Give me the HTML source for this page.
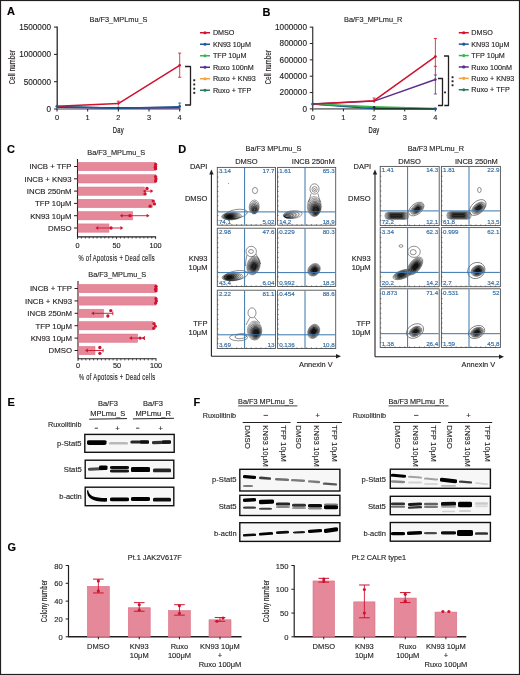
<!DOCTYPE html>
<html><head><meta charset="utf-8"><style>
html,body{margin:0;padding:0;background:#fff;}
body{width:520px;height:675px;overflow:hidden;position:relative;}
svg{position:absolute;left:0;top:0;will-change:transform;}
text{font-family:"Liberation Sans",sans-serif;stroke-width:0.14;}
</style></head><body>
<svg width="520" height="675" viewBox="0 0 520 675">
<rect x="0" y="0" width="520" height="675" fill="#fff"/>
<text x="7" y="15.3" font-size="11" text-anchor="start" fill="#000" stroke="#000" font-weight="bold" >A</text>
<text x="89.5" y="21.5" font-size="7.35" text-anchor="start" fill="#231f20" stroke="#231f20" font-weight="normal" >Ba/F3_MPLmu_S</text>
<line x1="57.2" y1="26.5" x2="57.2" y2="109.6" stroke="#231f20" stroke-width="1.25" />
<line x1="54" y1="109.0" x2="57" y2="109.0" stroke="#231f20" stroke-width="1" />
<text x="51.0" y="111.9" font-size="8.2" text-anchor="end" fill="#231f20" stroke="#231f20" font-weight="normal" >0</text>
<line x1="54" y1="81.7" x2="57" y2="81.7" stroke="#231f20" stroke-width="1" />
<text x="51.0" y="84.60000000000001" font-size="8.2" text-anchor="end" fill="#231f20" stroke="#231f20" font-weight="normal" >500000</text>
<line x1="54" y1="54.4" x2="57" y2="54.4" stroke="#231f20" stroke-width="1" />
<text x="51.0" y="57.3" font-size="8.2" text-anchor="end" fill="#231f20" stroke="#231f20" font-weight="normal" >1000000</text>
<line x1="54" y1="27.099999999999994" x2="57" y2="27.099999999999994" stroke="#231f20" stroke-width="1" />
<text x="51.0" y="29.999999999999993" font-size="8.2" text-anchor="end" fill="#231f20" stroke="#231f20" font-weight="normal" >1500000</text>
<line x1="57" y1="109" x2="180.68" y2="109" stroke="#808080" stroke-width="1.6" />
<line x1="57.0" y1="109" x2="57.0" y2="111.5" stroke="#231f20" stroke-width="1" />
<text x="57.0" y="120.3" font-size="7.4" text-anchor="middle" fill="#231f20" stroke="#231f20" font-weight="normal" >0</text>
<line x1="87.67" y1="109" x2="87.67" y2="111.5" stroke="#231f20" stroke-width="1" />
<text x="87.67" y="120.3" font-size="7.4" text-anchor="middle" fill="#231f20" stroke="#231f20" font-weight="normal" >1</text>
<line x1="118.34" y1="109" x2="118.34" y2="111.5" stroke="#231f20" stroke-width="1" />
<text x="118.34" y="120.3" font-size="7.4" text-anchor="middle" fill="#231f20" stroke="#231f20" font-weight="normal" >2</text>
<line x1="149.01" y1="109" x2="149.01" y2="111.5" stroke="#231f20" stroke-width="1" />
<text x="149.01" y="120.3" font-size="7.4" text-anchor="middle" fill="#231f20" stroke="#231f20" font-weight="normal" >3</text>
<line x1="179.68" y1="109" x2="179.68" y2="111.5" stroke="#231f20" stroke-width="1" />
<text x="179.68" y="120.3" font-size="7.4" text-anchor="middle" fill="#231f20" stroke="#231f20" font-weight="normal" >4</text>
<g transform="translate(118.3,132.6) scale(0.63,1)"><text x="0" y="0" font-size="9.2" text-anchor="middle" fill="#231f20" stroke="#231f20" style="stroke-width:0.25;letter-spacing:0.3px">Day</text></g>
<g transform="translate(14.9,67) rotate(-90) scale(0.65,1)"><text x="0" y="0" font-size="9.0" text-anchor="middle" fill="#231f20" stroke="#231f20" style="stroke-width:0.15;letter-spacing:0.4px">Cell number</text></g>
<polyline points="57,107.362 118.34,107.635 179.68,107.635" stroke="#5fa8c8" stroke-width="1.3" fill="none" stroke-linejoin="round" />
<polyline points="57,107.362 118.34,108.181 179.68,107.908" stroke="#5b2d8e" stroke-width="1.2" fill="none" stroke-linejoin="round" />
<polyline points="57,106.816 118.34,107.908 179.68,107.362" stroke="#233040" stroke-width="1.3" fill="none" stroke-linejoin="round" />
<polyline points="57,106.543 118.34,108.181 179.68,106.816" stroke="#1f5a96" stroke-width="1.5" fill="none" stroke-linejoin="round" />
<polyline points="57,106.27 118.34,103.53999999999999 179.68,65.32" stroke="#d0122f" stroke-width="1.5" fill="none" stroke-linejoin="round" />
<line x1="179.68" y1="53.1" x2="179.68" y2="77.3" stroke="#d0122f" stroke-width="0.8" />
<line x1="178.08" y1="53.1" x2="181.28" y2="53.1" stroke="#d0122f" stroke-width="0.8" />
<line x1="178.08" y1="77.3" x2="181.28" y2="77.3" stroke="#d0122f" stroke-width="0.8" />
<line x1="118.34" y1="101.2" x2="118.34" y2="105.5" stroke="#d0122f" stroke-width="0.8" />
<line x1="116.84" y1="101.2" x2="119.84" y2="101.2" stroke="#d0122f" stroke-width="0.8" />
<line x1="179.68" y1="103" x2="179.68" y2="109" stroke="#1f5a96" stroke-width="0.8" />
<line x1="178.18" y1="103" x2="181.18" y2="103" stroke="#1f5a96" stroke-width="0.8" />
<circle cx="179.68" cy="65.32" r="1.3" fill="#d0122f"/>
<circle cx="118.34" cy="103.53999999999999" r="1.1" fill="#d0122f"/>
<circle cx="57" cy="106.27" r="1.5" fill="#1f5a96"/>
<circle cx="179.68" cy="106.5" r="1.4" fill="#1f5a96"/>
<circle cx="118.34" cy="107.9" r="1.3" fill="#2a3550"/>
<polyline points="185,66.5 190.5,66.5 190.5,105 185,105" stroke="#231f20" stroke-width="1.3" fill="none" stroke-linejoin="round" stroke-linejoin="miter"/>
<rect x="193.3" y="79.3" width="1.9" height="1.9" fill="#231f20"/>
<rect x="193.3" y="83.5" width="1.9" height="1.9" fill="#231f20"/>
<rect x="193.3" y="87.7" width="1.9" height="1.9" fill="#231f20"/>
<rect x="193.3" y="91.9" width="1.9" height="1.9" fill="#231f20"/>
<line x1="200" y1="32.75" x2="210" y2="32.75" stroke="#d0122f" stroke-width="1.5" />
<circle cx="205" cy="32.75" r="1.6" fill="#d0122f"/>
<text x="212.9" y="35.35" font-size="7.2" text-anchor="start" fill="#231f20" stroke="#231f20" font-weight="normal" >DMSO</text>
<line x1="200" y1="44.25" x2="210" y2="44.25" stroke="#1f5a96" stroke-width="1.5" />
<circle cx="205" cy="44.25" r="1.6" fill="#1f5a96"/>
<text x="212.9" y="46.85" font-size="7.2" text-anchor="start" fill="#231f20" stroke="#231f20" font-weight="normal" >KN93 10&#956;M</text>
<line x1="200" y1="55.75" x2="210" y2="55.75" stroke="#3ab54a" stroke-width="1.5" />
<circle cx="205" cy="55.75" r="1.6" fill="#3ab54a"/>
<text x="212.9" y="58.35" font-size="7.2" text-anchor="start" fill="#231f20" stroke="#231f20" font-weight="normal" >TFP 10&#956;M</text>
<line x1="200" y1="67.25" x2="210" y2="67.25" stroke="#5b2d8e" stroke-width="1.5" />
<circle cx="205" cy="67.25" r="1.6" fill="#5b2d8e"/>
<text x="212.9" y="69.85" font-size="7.2" text-anchor="start" fill="#231f20" stroke="#231f20" font-weight="normal" >Ruxo 100nM</text>
<line x1="200" y1="78.75" x2="210" y2="78.75" stroke="#f7a13a" stroke-width="1.5" />
<circle cx="205" cy="78.75" r="1.6" fill="#f7a13a"/>
<text x="212.9" y="81.35" font-size="7.2" text-anchor="start" fill="#231f20" stroke="#231f20" font-weight="normal" >Ruxo + KN93</text>
<line x1="200" y1="90.25" x2="210" y2="90.25" stroke="#2b7a62" stroke-width="1.5" />
<circle cx="205" cy="90.25" r="1.6" fill="#2b7a62"/>
<text x="212.9" y="92.85" font-size="7.2" text-anchor="start" fill="#231f20" stroke="#231f20" font-weight="normal" >Ruxo + TFP</text>
<text x="262.5" y="16.3" font-size="11" text-anchor="start" fill="#000" stroke="#000" font-weight="bold" >B</text>
<text x="344" y="21.5" font-size="7.35" text-anchor="start" fill="#231f20" stroke="#231f20" font-weight="normal" >Ba/F3_MPLmu_R</text>
<line x1="312.75" y1="26.8" x2="312.75" y2="109.5" stroke="#231f20" stroke-width="1.1" />
<line x1="309.75" y1="108.9" x2="312.75" y2="108.9" stroke="#231f20" stroke-width="1" />
<text x="306.95" y="111.80000000000001" font-size="8.2" text-anchor="end" fill="#231f20" stroke="#231f20" font-weight="normal" >0</text>
<line x1="309.75" y1="92.55000000000001" x2="312.75" y2="92.55000000000001" stroke="#231f20" stroke-width="1" />
<text x="306.95" y="95.45000000000002" font-size="8.2" text-anchor="end" fill="#231f20" stroke="#231f20" font-weight="normal" >200000</text>
<line x1="309.75" y1="76.2" x2="312.75" y2="76.2" stroke="#231f20" stroke-width="1" />
<text x="306.95" y="79.10000000000001" font-size="8.2" text-anchor="end" fill="#231f20" stroke="#231f20" font-weight="normal" >400000</text>
<line x1="309.75" y1="59.85" x2="312.75" y2="59.85" stroke="#231f20" stroke-width="1" />
<text x="306.95" y="62.75" font-size="8.2" text-anchor="end" fill="#231f20" stroke="#231f20" font-weight="normal" >600000</text>
<line x1="309.75" y1="43.5" x2="312.75" y2="43.5" stroke="#231f20" stroke-width="1" />
<text x="306.95" y="46.4" font-size="8.2" text-anchor="end" fill="#231f20" stroke="#231f20" font-weight="normal" >800000</text>
<line x1="309.75" y1="27.150000000000006" x2="312.75" y2="27.150000000000006" stroke="#231f20" stroke-width="1" />
<text x="306.95" y="30.050000000000004" font-size="8.2" text-anchor="end" fill="#231f20" stroke="#231f20" font-weight="normal" >1000000</text>
<line x1="312.75" y1="108.9" x2="436.39" y2="108.9" stroke="#808080" stroke-width="1.6" />
<line x1="312.75" y1="108.9" x2="312.75" y2="111.4" stroke="#231f20" stroke-width="1" />
<text x="312.75" y="120.1" font-size="7.4" text-anchor="middle" fill="#231f20" stroke="#231f20" font-weight="normal" >0</text>
<line x1="343.41" y1="108.9" x2="343.41" y2="111.4" stroke="#231f20" stroke-width="1" />
<text x="343.41" y="120.1" font-size="7.4" text-anchor="middle" fill="#231f20" stroke="#231f20" font-weight="normal" >1</text>
<line x1="374.07" y1="108.9" x2="374.07" y2="111.4" stroke="#231f20" stroke-width="1" />
<text x="374.07" y="120.1" font-size="7.4" text-anchor="middle" fill="#231f20" stroke="#231f20" font-weight="normal" >2</text>
<line x1="404.73" y1="108.9" x2="404.73" y2="111.4" stroke="#231f20" stroke-width="1" />
<text x="404.73" y="120.1" font-size="7.4" text-anchor="middle" fill="#231f20" stroke="#231f20" font-weight="normal" >3</text>
<line x1="435.39" y1="108.9" x2="435.39" y2="111.4" stroke="#231f20" stroke-width="1" />
<text x="435.39" y="120.1" font-size="7.4" text-anchor="middle" fill="#231f20" stroke="#231f20" font-weight="normal" >4</text>
<g transform="translate(374,132.8) scale(0.63,1)"><text x="0" y="0" font-size="9.2" text-anchor="middle" fill="#231f20" stroke="#231f20" style="stroke-width:0.25;letter-spacing:0.3px">Day</text></g>
<g transform="translate(270.6,67) rotate(-90) scale(0.65,1)"><text x="0" y="0" font-size="9.0" text-anchor="middle" fill="#231f20" stroke="#231f20" style="stroke-width:0.15;letter-spacing:0.4px">Cell number</text></g>
<polyline points="312.75,103.995 374.07,107.67375000000001 435.39,108.9" stroke="#2b7a62" stroke-width="1.3" fill="none" stroke-linejoin="round" />
<polyline points="312.75,103.995 374.07,108.9 435.39,108.9" stroke="#1f5a96" stroke-width="1.3" fill="none" stroke-linejoin="round" />
<polyline points="312.75,103.995 374.07,106.85625 435.39,108.49125000000001" stroke="#3ab54a" stroke-width="1.5" fill="none" stroke-linejoin="round" />
<polyline points="374.07,108.49125000000001 435.39,108.9" stroke="#1a3a2a" stroke-width="1.3" fill="none" stroke-linejoin="round" />
<polyline points="312.75,103.995 374.07,101.13375 435.39,79.47" stroke="#5b2d8e" stroke-width="1.4" fill="none" stroke-linejoin="round" />
<polyline points="312.75,103.995 374.07,100.72500000000001 435.39,56.58" stroke="#d0122f" stroke-width="1.5" fill="none" stroke-linejoin="round" />
<line x1="435.39" y1="38.5" x2="435.39" y2="66.3" stroke="#d0122f" stroke-width="0.8" />
<line x1="433.78999999999996" y1="38.5" x2="436.99" y2="38.5" stroke="#d0122f" stroke-width="0.8" />
<line x1="433.78999999999996" y1="66.3" x2="436.99" y2="66.3" stroke="#d0122f" stroke-width="0.8" />
<line x1="435.39" y1="66.3" x2="435.39" y2="94" stroke="#5b2d8e" stroke-width="0.8" />
<line x1="433.78999999999996" y1="75" x2="436.99" y2="75" stroke="#5b2d8e" stroke-width="0.8" />
<line x1="433.78999999999996" y1="94" x2="436.99" y2="94" stroke="#5b2d8e" stroke-width="0.8" />
<line x1="374.07" y1="98" x2="374.07" y2="103" stroke="#d0122f" stroke-width="0.8" />
<line x1="372.57" y1="98" x2="375.57" y2="98" stroke="#d0122f" stroke-width="0.8" />
<circle cx="435.39" cy="56.58" r="1.4" fill="#d0122f"/>
<circle cx="435.39" cy="79.47" r="1.3" fill="#5b2d8e"/>
<circle cx="374.07" cy="100.72500000000001" r="1.2" fill="#d0122f"/>
<circle cx="312.75" cy="103.995" r="1.6" fill="#1f5a96"/>
<circle cx="374.07" cy="107.3" r="1.3" fill="#35205a"/>
<circle cx="435.39" cy="108.75" r="1.6" fill="#1f5a96"/>
<polyline points="444,56 448.5,56 448.5,105.5 444.3,105.5" stroke="#231f20" stroke-width="1.3" fill="none" stroke-linejoin="round" stroke-linejoin="miter"/>
<polyline points="438,78.5 442.5,78.5 442.5,105.5 438,105.5" stroke="#231f20" stroke-width="1.3" fill="none" stroke-linejoin="round" stroke-linejoin="miter"/>
<rect x="451.6" y="76.3" width="1.9" height="1.9" fill="#231f20"/>
<rect x="451.6" y="80.3" width="1.9" height="1.9" fill="#231f20"/>
<rect x="451.6" y="84.3" width="1.9" height="1.9" fill="#231f20"/>
<rect x="444.1" y="91.5" width="1.8" height="1.8" fill="#231f20"/>
<line x1="458.75" y1="32.75" x2="468.75" y2="32.75" stroke="#d0122f" stroke-width="1.5" />
<circle cx="463.75" cy="32.75" r="1.6" fill="#d0122f"/>
<text x="471.3" y="35.35" font-size="7.2" text-anchor="start" fill="#231f20" stroke="#231f20" font-weight="normal" >DMSO</text>
<line x1="458.75" y1="44.15" x2="468.75" y2="44.15" stroke="#1f5a96" stroke-width="1.5" />
<circle cx="463.75" cy="44.15" r="1.6" fill="#1f5a96"/>
<text x="471.3" y="46.75" font-size="7.2" text-anchor="start" fill="#231f20" stroke="#231f20" font-weight="normal" >KN93 10&#956;M</text>
<line x1="458.75" y1="55.55" x2="468.75" y2="55.55" stroke="#3ab54a" stroke-width="1.5" />
<circle cx="463.75" cy="55.55" r="1.6" fill="#3ab54a"/>
<text x="471.3" y="58.15" font-size="7.2" text-anchor="start" fill="#231f20" stroke="#231f20" font-weight="normal" >TFP 10&#956;M</text>
<line x1="458.75" y1="66.95" x2="468.75" y2="66.95" stroke="#5b2d8e" stroke-width="1.5" />
<circle cx="463.75" cy="66.95" r="1.6" fill="#5b2d8e"/>
<text x="471.3" y="69.55" font-size="7.2" text-anchor="start" fill="#231f20" stroke="#231f20" font-weight="normal" >Ruxo 100nM</text>
<line x1="458.75" y1="78.35" x2="468.75" y2="78.35" stroke="#f7a13a" stroke-width="1.5" />
<circle cx="463.75" cy="78.35" r="1.6" fill="#f7a13a"/>
<text x="471.3" y="80.94999999999999" font-size="7.2" text-anchor="start" fill="#231f20" stroke="#231f20" font-weight="normal" >Ruxo + KN93</text>
<line x1="458.75" y1="89.75" x2="468.75" y2="89.75" stroke="#2b7a62" stroke-width="1.5" />
<circle cx="463.75" cy="89.75" r="1.6" fill="#2b7a62"/>
<text x="471.3" y="92.35" font-size="7.2" text-anchor="start" fill="#231f20" stroke="#231f20" font-weight="normal" >Ruxo + TFP</text>
<text x="7" y="153.3" font-size="11" text-anchor="start" fill="#000" stroke="#000" font-weight="bold" >C</text>
<line x1="77.5" y1="159" x2="77.5" y2="237.4" stroke="#231f20" stroke-width="1.1" />
<line x1="77.5" y1="236.9" x2="156.1" y2="236.9" stroke="#231f20" stroke-width="1.1" />
<line x1="77.5" y1="236.9" x2="77.5" y2="239.1" stroke="#231f20" stroke-width="0.8" />
<line x1="81.405" y1="236.9" x2="81.405" y2="238.5" stroke="#231f20" stroke-width="0.8" />
<line x1="85.31" y1="236.9" x2="85.31" y2="238.5" stroke="#231f20" stroke-width="0.8" />
<line x1="89.215" y1="236.9" x2="89.215" y2="238.5" stroke="#231f20" stroke-width="0.8" />
<line x1="93.12" y1="236.9" x2="93.12" y2="238.5" stroke="#231f20" stroke-width="0.8" />
<line x1="97.025" y1="236.9" x2="97.025" y2="238.5" stroke="#231f20" stroke-width="0.8" />
<line x1="100.92999999999999" y1="236.9" x2="100.92999999999999" y2="238.5" stroke="#231f20" stroke-width="0.8" />
<line x1="104.835" y1="236.9" x2="104.835" y2="238.5" stroke="#231f20" stroke-width="0.8" />
<line x1="108.74" y1="236.9" x2="108.74" y2="238.5" stroke="#231f20" stroke-width="0.8" />
<line x1="112.645" y1="236.9" x2="112.645" y2="238.5" stroke="#231f20" stroke-width="0.8" />
<line x1="116.55" y1="236.9" x2="116.55" y2="239.1" stroke="#231f20" stroke-width="0.8" />
<line x1="120.455" y1="236.9" x2="120.455" y2="238.5" stroke="#231f20" stroke-width="0.8" />
<line x1="124.35999999999999" y1="236.9" x2="124.35999999999999" y2="238.5" stroke="#231f20" stroke-width="0.8" />
<line x1="128.265" y1="236.9" x2="128.265" y2="238.5" stroke="#231f20" stroke-width="0.8" />
<line x1="132.17" y1="236.9" x2="132.17" y2="238.5" stroke="#231f20" stroke-width="0.8" />
<line x1="136.075" y1="236.9" x2="136.075" y2="238.5" stroke="#231f20" stroke-width="0.8" />
<line x1="139.98" y1="236.9" x2="139.98" y2="238.5" stroke="#231f20" stroke-width="0.8" />
<line x1="143.885" y1="236.9" x2="143.885" y2="238.5" stroke="#231f20" stroke-width="0.8" />
<line x1="147.79" y1="236.9" x2="147.79" y2="238.5" stroke="#231f20" stroke-width="0.8" />
<line x1="151.695" y1="236.9" x2="151.695" y2="238.5" stroke="#231f20" stroke-width="0.8" />
<line x1="155.6" y1="236.9" x2="155.6" y2="239.1" stroke="#231f20" stroke-width="0.8" />
<text x="77.5" y="248.2" font-size="7.3" text-anchor="middle" fill="#231f20" stroke="#231f20" font-weight="normal" >0</text>
<text x="116.55" y="248.2" font-size="7.3" text-anchor="middle" fill="#231f20" stroke="#231f20" font-weight="normal" >50</text>
<text x="155.6" y="248.2" font-size="7.3" text-anchor="middle" fill="#231f20" stroke="#231f20" font-weight="normal" >100</text>
<g transform="translate(116.75,260.5) scale(0.66,1)"><text x="0" y="0" font-size="8.8" text-anchor="middle" fill="#231f20" stroke="#231f20" style="stroke-width:0.15;letter-spacing:0.45px">% of Apotosis + Dead cells</text></g>
<text x="87.3" y="155.4" font-size="7.35" text-anchor="start" fill="#231f20" stroke="#231f20" font-weight="normal" >Ba/F3_MPLmu_S</text>
<line x1="74.0" y1="166.5" x2="77.5" y2="166.5" stroke="#231f20" stroke-width="1" />
<text x="71.5" y="169.3" font-size="7.8" text-anchor="end" fill="#231f20" stroke="#231f20" font-weight="normal" >INCB + TFP</text>
<line x1="74.0" y1="178.8" x2="77.5" y2="178.8" stroke="#231f20" stroke-width="1" />
<text x="71.5" y="181.60000000000002" font-size="7.8" text-anchor="end" fill="#231f20" stroke="#231f20" font-weight="normal" >INCB + KN93</text>
<line x1="74.0" y1="191.1" x2="77.5" y2="191.1" stroke="#231f20" stroke-width="1" />
<text x="71.5" y="193.9" font-size="7.8" text-anchor="end" fill="#231f20" stroke="#231f20" font-weight="normal" >INCB 250nM</text>
<line x1="74.0" y1="203.4" x2="77.5" y2="203.4" stroke="#231f20" stroke-width="1" />
<text x="71.5" y="206.20000000000002" font-size="7.8" text-anchor="end" fill="#231f20" stroke="#231f20" font-weight="normal" >TFP 10&#956;M</text>
<line x1="74.0" y1="215.7" x2="77.5" y2="215.7" stroke="#231f20" stroke-width="1" />
<text x="71.5" y="218.5" font-size="7.8" text-anchor="end" fill="#231f20" stroke="#231f20" font-weight="normal" >KN93 10&#956;M</text>
<line x1="74.0" y1="228.0" x2="77.5" y2="228.0" stroke="#231f20" stroke-width="1" />
<text x="71.5" y="230.8" font-size="7.8" text-anchor="end" fill="#231f20" stroke="#231f20" font-weight="normal" >DMSO</text>
<rect x="78.0" y="162.4" width="77.6" height="8.3" fill="#e4889a" stroke="#dc6f84" stroke-width="0.5"/>
<circle cx="155.6" cy="164.3" r="1.65" fill="#d0122f"/>
<circle cx="155.6" cy="166.5" r="1.65" fill="#d0122f"/>
<circle cx="155.6" cy="168.7" r="1.65" fill="#d0122f"/>
<circle cx="155.2095" cy="167.5" r="1.65" fill="#d0122f"/>
<rect x="78.0" y="174.70000000000002" width="77.6" height="8.3" fill="#e4889a" stroke="#dc6f84" stroke-width="0.5"/>
<circle cx="155.6" cy="176.60000000000002" r="1.65" fill="#d0122f"/>
<circle cx="155.9905" cy="178.8" r="1.65" fill="#d0122f"/>
<circle cx="155.6" cy="181.0" r="1.65" fill="#d0122f"/>
<rect x="78.0" y="187.0" width="66.35359999999999" height="8.3" fill="#e4889a" stroke="#dc6f84" stroke-width="0.5"/>
<line x1="144.2755" y1="191.1" x2="151.92929999999998" y2="191.1" stroke="#d0122f" stroke-width="0.9" />
<path d="M142.8755,191.1 L145.6755,189.2 L145.6755,193.0 Z" fill="#d0122f"/>
<path d="M153.3293,191.1 L150.52929999999998,189.2 L150.52929999999998,193.0 Z" fill="#d0122f"/>
<circle cx="147.009" cy="188.5" r="1.65" fill="#d0122f"/>
<circle cx="145.0565" cy="193.9" r="1.65" fill="#d0122f"/>
<rect x="78.0" y="199.3" width="74.476" height="8.3" fill="#e4889a" stroke="#dc6f84" stroke-width="0.5"/>
<circle cx="153.257" cy="201.1" r="1.65" fill="#d0122f"/>
<circle cx="154.42849999999999" cy="203.9" r="1.65" fill="#d0122f"/>
<circle cx="150.13299999999998" cy="206.20000000000002" r="1.65" fill="#d0122f"/>
<rect x="78.0" y="211.6" width="54.716699999999996" height="8.3" fill="#e4889a" stroke="#dc6f84" stroke-width="0.5"/>
<line x1="121.23599999999999" y1="215.7" x2="148.1024" y2="215.7" stroke="#d0122f" stroke-width="0.9" />
<path d="M119.83599999999998,215.7 L122.636,213.79999999999998 L122.636,217.6 Z" fill="#d0122f"/>
<path d="M149.5024,215.7 L146.70239999999998,213.79999999999998 L146.70239999999998,217.6 Z" fill="#d0122f"/>
<circle cx="129.9832" cy="215.7" r="1.65" fill="#d0122f"/>
<rect x="78.0" y="223.9" width="30.974299999999996" height="8.3" fill="#e4889a" stroke="#dc6f84" stroke-width="0.5"/>
<line x1="96.8688" y1="228.0" x2="121.86079999999998" y2="228.0" stroke="#d0122f" stroke-width="0.9" />
<path d="M95.46879999999999,228.0 L98.2688,226.1 L98.2688,229.9 Z" fill="#d0122f"/>
<path d="M123.26079999999999,228.0 L120.46079999999998,226.1 L120.46079999999998,229.9 Z" fill="#d0122f"/>
<circle cx="111.00489999999999" cy="228.0" r="1.65" fill="#d0122f"/>
<line x1="78.0" y1="281" x2="78.0" y2="359.3" stroke="#231f20" stroke-width="1.1" />
<line x1="78.0" y1="358.8" x2="156.5" y2="358.8" stroke="#231f20" stroke-width="1.1" />
<line x1="78.0" y1="358.8" x2="78.0" y2="361.0" stroke="#231f20" stroke-width="0.8" />
<line x1="81.9" y1="358.8" x2="81.9" y2="360.40000000000003" stroke="#231f20" stroke-width="0.8" />
<line x1="85.8" y1="358.8" x2="85.8" y2="360.40000000000003" stroke="#231f20" stroke-width="0.8" />
<line x1="89.7" y1="358.8" x2="89.7" y2="360.40000000000003" stroke="#231f20" stroke-width="0.8" />
<line x1="93.6" y1="358.8" x2="93.6" y2="360.40000000000003" stroke="#231f20" stroke-width="0.8" />
<line x1="97.5" y1="358.8" x2="97.5" y2="360.40000000000003" stroke="#231f20" stroke-width="0.8" />
<line x1="101.4" y1="358.8" x2="101.4" y2="360.40000000000003" stroke="#231f20" stroke-width="0.8" />
<line x1="105.3" y1="358.8" x2="105.3" y2="360.40000000000003" stroke="#231f20" stroke-width="0.8" />
<line x1="109.2" y1="358.8" x2="109.2" y2="360.40000000000003" stroke="#231f20" stroke-width="0.8" />
<line x1="113.1" y1="358.8" x2="113.1" y2="360.40000000000003" stroke="#231f20" stroke-width="0.8" />
<line x1="117.0" y1="358.8" x2="117.0" y2="361.0" stroke="#231f20" stroke-width="0.8" />
<line x1="120.9" y1="358.8" x2="120.9" y2="360.40000000000003" stroke="#231f20" stroke-width="0.8" />
<line x1="124.80000000000001" y1="358.8" x2="124.80000000000001" y2="360.40000000000003" stroke="#231f20" stroke-width="0.8" />
<line x1="128.7" y1="358.8" x2="128.7" y2="360.40000000000003" stroke="#231f20" stroke-width="0.8" />
<line x1="132.6" y1="358.8" x2="132.6" y2="360.40000000000003" stroke="#231f20" stroke-width="0.8" />
<line x1="136.5" y1="358.8" x2="136.5" y2="360.40000000000003" stroke="#231f20" stroke-width="0.8" />
<line x1="140.4" y1="358.8" x2="140.4" y2="360.40000000000003" stroke="#231f20" stroke-width="0.8" />
<line x1="144.3" y1="358.8" x2="144.3" y2="360.40000000000003" stroke="#231f20" stroke-width="0.8" />
<line x1="148.2" y1="358.8" x2="148.2" y2="360.40000000000003" stroke="#231f20" stroke-width="0.8" />
<line x1="152.10000000000002" y1="358.8" x2="152.10000000000002" y2="360.40000000000003" stroke="#231f20" stroke-width="0.8" />
<line x1="156.0" y1="358.8" x2="156.0" y2="361.0" stroke="#231f20" stroke-width="0.8" />
<text x="78.0" y="368.3" font-size="7.3" text-anchor="middle" fill="#231f20" stroke="#231f20" font-weight="normal" >0</text>
<text x="117.0" y="368.3" font-size="7.3" text-anchor="middle" fill="#231f20" stroke="#231f20" font-weight="normal" >50</text>
<text x="156.0" y="368.3" font-size="7.3" text-anchor="middle" fill="#231f20" stroke="#231f20" font-weight="normal" >100</text>
<g transform="translate(117.2,380.3) scale(0.66,1)"><text x="0" y="0" font-size="8.8" text-anchor="middle" fill="#231f20" stroke="#231f20" style="stroke-width:0.15;letter-spacing:0.45px">% of Apotosis + Dead cells</text></g>
<text x="88.3" y="277.3" font-size="7.35" text-anchor="start" fill="#231f20" stroke="#231f20" font-weight="normal" >Ba/F3_MPLmu_S</text>
<line x1="74.5" y1="288.5" x2="78.0" y2="288.5" stroke="#231f20" stroke-width="1" />
<text x="72.0" y="291.3" font-size="7.8" text-anchor="end" fill="#231f20" stroke="#231f20" font-weight="normal" >INCB + TFP</text>
<line x1="74.5" y1="300.9" x2="78.0" y2="300.9" stroke="#231f20" stroke-width="1" />
<text x="72.0" y="303.7" font-size="7.8" text-anchor="end" fill="#231f20" stroke="#231f20" font-weight="normal" >INCB + KN93</text>
<line x1="74.5" y1="313.3" x2="78.0" y2="313.3" stroke="#231f20" stroke-width="1" />
<text x="72.0" y="316.1" font-size="7.8" text-anchor="end" fill="#231f20" stroke="#231f20" font-weight="normal" >INCB 250nM</text>
<line x1="74.5" y1="325.7" x2="78.0" y2="325.7" stroke="#231f20" stroke-width="1" />
<text x="72.0" y="328.5" font-size="7.8" text-anchor="end" fill="#231f20" stroke="#231f20" font-weight="normal" >TFP 10&#956;M</text>
<line x1="74.5" y1="338.1" x2="78.0" y2="338.1" stroke="#231f20" stroke-width="1" />
<text x="72.0" y="340.90000000000003" font-size="7.8" text-anchor="end" fill="#231f20" stroke="#231f20" font-weight="normal" >KN93 10&#956;M</text>
<line x1="74.5" y1="350.5" x2="78.0" y2="350.5" stroke="#231f20" stroke-width="1" />
<text x="72.0" y="353.3" font-size="7.8" text-anchor="end" fill="#231f20" stroke="#231f20" font-weight="normal" >DMSO</text>
<rect x="78.5" y="284.4" width="77.5" height="8.3" fill="#e4889a" stroke="#dc6f84" stroke-width="0.5"/>
<circle cx="156.0" cy="286.3" r="1.65" fill="#d0122f"/>
<circle cx="156.0" cy="288.5" r="1.65" fill="#d0122f"/>
<circle cx="156.0" cy="290.7" r="1.65" fill="#d0122f"/>
<circle cx="155.61" cy="289.5" r="1.65" fill="#d0122f"/>
<rect x="78.5" y="296.79999999999995" width="77.5" height="8.3" fill="#e4889a" stroke="#dc6f84" stroke-width="0.5"/>
<circle cx="156.0" cy="298.7" r="1.65" fill="#d0122f"/>
<circle cx="156.39" cy="300.9" r="1.65" fill="#d0122f"/>
<circle cx="155.61" cy="303.09999999999997" r="1.65" fill="#d0122f"/>
<rect x="78.5" y="309.2" width="25.162" height="8.3" fill="#e4889a" stroke="#dc6f84" stroke-width="0.5"/>
<line x1="92.664" y1="313.3" x2="112.78800000000001" y2="313.3" stroke="#d0122f" stroke-width="0.9" />
<path d="M91.264,313.3 L94.06400000000001,311.40000000000003 L94.06400000000001,315.2 Z" fill="#d0122f"/>
<line x1="112.78800000000001" y1="311.5" x2="112.78800000000001" y2="315.1" stroke="#d0122f" stroke-width="0.9" />
<circle cx="110.75999999999999" cy="310.6" r="1.65" fill="#d0122f"/>
<circle cx="107.874" cy="316.0" r="1.65" fill="#d0122f"/>
<rect x="78.5" y="321.59999999999997" width="74.38" height="8.3" fill="#e4889a" stroke="#dc6f84" stroke-width="0.5"/>
<circle cx="154.05" cy="323.7" r="1.65" fill="#d0122f"/>
<circle cx="155.22" cy="326.2" r="1.65" fill="#d0122f"/>
<circle cx="153.66" cy="328.3" r="1.65" fill="#d0122f"/>
<rect x="78.5" y="334.0" width="59.17" height="8.3" fill="#e4889a" stroke="#dc6f84" stroke-width="0.5"/>
<line x1="130.572" y1="338.1" x2="143.13" y2="338.1" stroke="#d0122f" stroke-width="0.9" />
<path d="M129.172,338.1 L131.972,336.20000000000005 L131.972,340.0 Z" fill="#d0122f"/>
<path d="M141.73,338.1 L144.53,336.20000000000005 L144.53,340.0 Z" fill="#d0122f"/>
<line x1="144.53" y1="336.20000000000005" x2="144.53" y2="340.0" stroke="#d0122f" stroke-width="0.8" />
<circle cx="140.01" cy="338.1" r="1.65" fill="#d0122f"/>
<rect x="78.5" y="346.4" width="16.504" height="8.3" fill="#e4889a" stroke="#dc6f84" stroke-width="0.5"/>
<line x1="86.424" y1="350.5" x2="103.116" y2="350.5" stroke="#d0122f" stroke-width="0.9" />
<path d="M85.024,350.5 L87.82400000000001,348.6 L87.82400000000001,352.4 Z" fill="#d0122f"/>
<line x1="103.116" y1="348.7" x2="103.116" y2="352.3" stroke="#d0122f" stroke-width="0.9" />
<circle cx="99.84" cy="347.5" r="1.65" fill="#d0122f"/>
<circle cx="99.84" cy="353.3" r="1.65" fill="#d0122f"/>
<text x="178.3" y="152.6" font-size="11" text-anchor="start" fill="#000" stroke="#000" font-weight="bold" >D</text>
<text x="245.5" y="151.0" font-size="7.35" text-anchor="start" fill="#231f20" stroke="#231f20" font-weight="normal" >Ba/F3 MPLmu_S</text>
<text x="246.4" y="163.8" font-size="7.5" text-anchor="middle" fill="#231f20" stroke="#231f20" font-weight="normal" >DMSO</text>
<text x="313.3" y="163.8" font-size="7.5" text-anchor="middle" fill="#231f20" stroke="#231f20" font-weight="normal" >INCB 250nM</text>
<text x="207.4" y="169.0" font-size="7.5" text-anchor="end" fill="#231f20" stroke="#231f20" font-weight="normal" >DAPI</text>
<text x="207.4" y="200.9" font-size="7.5" text-anchor="end" fill="#231f20" stroke="#231f20" font-weight="normal" >DMSO</text>
<text x="207.4" y="260.6" font-size="7.5" text-anchor="end" fill="#231f20" stroke="#231f20" font-weight="normal" >KN93</text>
<text x="207.4" y="270.0" font-size="7.5" text-anchor="end" fill="#231f20" stroke="#231f20" font-weight="normal" >10&#956;M</text>
<text x="207.4" y="325.7" font-size="7.5" text-anchor="end" fill="#231f20" stroke="#231f20" font-weight="normal" >TFP</text>
<text x="207.4" y="335.2" font-size="7.5" text-anchor="end" fill="#231f20" stroke="#231f20" font-weight="normal" >10&#956;M</text>
<line x1="211.4" y1="173" x2="211.4" y2="356.3" stroke="#231f20" stroke-width="1.1" />
<path d="M209.2,174.5 L211.4,169.5 L213.6,174.5 Z" fill="#231f20"/>
<line x1="211.4" y1="356.3" x2="337" y2="356.3" stroke="#231f20" stroke-width="1.1" />
<path d="M336,354.1 L341,356.3 L336,358.5 Z" fill="#231f20"/>
<text x="332.7" y="366.7" font-size="7.4" text-anchor="end" fill="#231f20" stroke="#231f20" font-weight="normal" >Annexin V</text>
<rect x="217.3" y="167.4" width="58.19999999999999" height="57.79999999999998" fill="#fff" stroke="#505050" stroke-width="0.9"/>
<ellipse cx="236.0" cy="214.0" rx="11.5" ry="4.4" transform="rotate(-10 236.0 214.0)" fill="none" fill-opacity="1" stroke="#222" stroke-width="0.55" stroke-opacity="0.9"/>
<ellipse cx="231.5" cy="216.2" rx="10.0" ry="3.7" transform="rotate(-3 231.5 216.2)" fill="#000" fill-opacity="0.03" stroke="#000" stroke-width="0.5" stroke-opacity="0.7"/>
<ellipse cx="231.21428571428572" cy="216.24285714285713" rx="8.885714285714286" ry="3.287714285714286" transform="rotate(-3 231.21428571428572 216.24285714285713)" fill="#000" fill-opacity="0.06581421089683587" stroke="#000" stroke-width="0.5" stroke-opacity="0.7428571428571428"/>
<ellipse cx="230.92857142857142" cy="216.28571428571428" rx="7.771428571428571" ry="2.8754285714285714" transform="rotate(-3 230.92857142857142 216.28571428571428)" fill="#000" fill-opacity="0.12451426919292742" stroke="#000" stroke-width="0.5" stroke-opacity="0.7857142857142857"/>
<ellipse cx="230.64285714285714" cy="216.32857142857142" rx="6.657142857142857" ry="2.463142857142857" transform="rotate(-3 230.64285714285714 216.32857142857142)" fill="#000" fill-opacity="0.19673437399057794" stroke="#000" stroke-width="0.5" stroke-opacity="0.8285714285714285"/>
<ellipse cx="230.35714285714286" cy="216.37142857142857" rx="5.542857142857143" ry="2.0508571428571427" transform="rotate(-3 230.35714285714286 216.37142857142857)" fill="#000" fill-opacity="0.2794246517619732" stroke="#000" stroke-width="0.5" stroke-opacity="0.8714285714285713"/>
<ellipse cx="230.07142857142858" cy="216.4142857142857" rx="4.428571428571429" ry="1.6385714285714286" transform="rotate(-3 230.07142857142858 216.4142857142857)" fill="#000" fill-opacity="0.37088931817881365" stroke="#000" stroke-width="0.5" stroke-opacity="0.9142857142857143"/>
<ellipse cx="229.78571428571428" cy="216.45714285714286" rx="3.314285714285714" ry="1.2262857142857142" transform="rotate(-3 229.78571428571428 216.45714285714286)" fill="#000" fill-opacity="0.4700146509566677" stroke="#000" stroke-width="0.5" stroke-opacity="0.9571428571428571"/>
<ellipse cx="229.5" cy="216.5" rx="2.1999999999999997" ry="0.814" transform="rotate(-3 229.5 216.5)" fill="#000" fill-opacity="0.5760000000000001" stroke="#000" stroke-width="0.5" stroke-opacity="1.0"/>
<ellipse cx="254.2" cy="207.0" rx="5.0" ry="7.0" transform="rotate(3 254.2 207.0)" fill="#000" fill-opacity="0.03" stroke="#000" stroke-width="0.5" stroke-opacity="0.7"/>
<ellipse cx="254.26" cy="207.5" rx="4.3" ry="6.02" transform="rotate(3 254.26 207.5)" fill="#000" fill-opacity="0.06551065591553895" stroke="#000" stroke-width="0.5" stroke-opacity="0.76"/>
<ellipse cx="254.32" cy="208.0" rx="3.5999999999999996" ry="5.04" transform="rotate(3 254.32 208.0)" fill="#000" fill-opacity="0.12371318279457581" stroke="#000" stroke-width="0.5" stroke-opacity="0.82"/>
<ellipse cx="254.38" cy="208.5" rx="2.9000000000000004" ry="4.0600000000000005" transform="rotate(3 254.38 208.5)" fill="#000" fill-opacity="0.19532116262808116" stroke="#000" stroke-width="0.5" stroke-opacity="0.8799999999999999"/>
<ellipse cx="254.44" cy="209.0" rx="2.2" ry="3.0800000000000005" transform="rotate(3 254.44 209.0)" fill="#000" fill-opacity="0.27731057208229815" stroke="#000" stroke-width="0.5" stroke-opacity="0.94"/>
<ellipse cx="254.5" cy="209.5" rx="1.5000000000000002" ry="2.1000000000000005" transform="rotate(3 254.5 209.5)" fill="#000" fill-opacity="0.368" stroke="#000" stroke-width="0.5" stroke-opacity="1.0"/>
<ellipse cx="255.0" cy="190.5" rx="2.6" ry="3.1" transform="rotate(0 255.0 190.5)" fill="none" fill-opacity="1" stroke="#222" stroke-width="0.55" stroke-opacity="0.9"/>
<circle cx="228.4" cy="183.5" r="0.45" fill="#333"/>
<line x1="244.6" y1="167.9" x2="244.6" y2="224.7" stroke="#3a76ad" stroke-width="1.0" />
<line x1="217.8" y1="211.9" x2="275.0" y2="211.9" stroke="#3a76ad" stroke-width="1.0" />
<line x1="217.10000000000002" y1="172.21666666666667" x2="218.5" y2="172.21666666666667" stroke="#333" stroke-width="0.5" />
<line x1="217.10000000000002" y1="177.03333333333333" x2="218.5" y2="177.03333333333333" stroke="#333" stroke-width="0.5" />
<line x1="217.10000000000002" y1="181.85" x2="218.5" y2="181.85" stroke="#333" stroke-width="0.5" />
<line x1="217.10000000000002" y1="186.66666666666666" x2="218.5" y2="186.66666666666666" stroke="#333" stroke-width="0.5" />
<line x1="217.10000000000002" y1="191.48333333333332" x2="218.5" y2="191.48333333333332" stroke="#333" stroke-width="0.5" />
<line x1="217.10000000000002" y1="196.3" x2="218.5" y2="196.3" stroke="#333" stroke-width="0.5" />
<line x1="217.10000000000002" y1="201.11666666666667" x2="218.5" y2="201.11666666666667" stroke="#333" stroke-width="0.5" />
<line x1="217.10000000000002" y1="205.93333333333334" x2="218.5" y2="205.93333333333334" stroke="#333" stroke-width="0.5" />
<line x1="217.10000000000002" y1="210.75" x2="218.5" y2="210.75" stroke="#333" stroke-width="0.5" />
<line x1="217.10000000000002" y1="215.56666666666666" x2="218.5" y2="215.56666666666666" stroke="#333" stroke-width="0.5" />
<line x1="217.10000000000002" y1="220.38333333333333" x2="218.5" y2="220.38333333333333" stroke="#333" stroke-width="0.5" />
<line x1="222.15" y1="224.0" x2="222.15" y2="225.39999999999998" stroke="#333" stroke-width="0.5" />
<line x1="227.0" y1="224.0" x2="227.0" y2="225.39999999999998" stroke="#333" stroke-width="0.5" />
<line x1="231.85000000000002" y1="224.0" x2="231.85000000000002" y2="225.39999999999998" stroke="#333" stroke-width="0.5" />
<line x1="236.70000000000002" y1="224.0" x2="236.70000000000002" y2="225.39999999999998" stroke="#333" stroke-width="0.5" />
<line x1="241.55" y1="224.0" x2="241.55" y2="225.39999999999998" stroke="#333" stroke-width="0.5" />
<line x1="246.4" y1="224.0" x2="246.4" y2="225.39999999999998" stroke="#333" stroke-width="0.5" />
<line x1="251.25" y1="224.0" x2="251.25" y2="225.39999999999998" stroke="#333" stroke-width="0.5" />
<line x1="256.1" y1="224.0" x2="256.1" y2="225.39999999999998" stroke="#333" stroke-width="0.5" />
<line x1="260.95" y1="224.0" x2="260.95" y2="225.39999999999998" stroke="#333" stroke-width="0.5" />
<line x1="265.8" y1="224.0" x2="265.8" y2="225.39999999999998" stroke="#333" stroke-width="0.5" />
<line x1="270.65" y1="224.0" x2="270.65" y2="225.39999999999998" stroke="#333" stroke-width="0.5" />
<text x="218.9" y="173.3" font-size="6.2" text-anchor="start" fill="#2d6aa3" stroke="#2d6aa3" font-weight="normal" >3.14</text>
<text x="274.5" y="173.3" font-size="6.2" text-anchor="end" fill="#2d6aa3" stroke="#2d6aa3" font-weight="normal" >17.7</text>
<text x="218.9" y="223.6" font-size="6.2" text-anchor="start" fill="#2d6aa3" stroke="#2d6aa3" font-weight="normal" >74.1</text>
<text x="274.5" y="223.6" font-size="6.2" text-anchor="end" fill="#2d6aa3" stroke="#2d6aa3" font-weight="normal" >5.02</text>
<rect x="277.6" y="167.4" width="58.099999999999966" height="57.79999999999998" fill="#fff" stroke="#505050" stroke-width="0.9"/>
<ellipse cx="292.7" cy="214.6" rx="9.5" ry="3.9" transform="rotate(-6 292.7 214.6)" fill="#000" fill-opacity="0.03" stroke="#000" stroke-width="0.5" stroke-opacity="0.7"/>
<ellipse cx="291.45" cy="214.975" rx="7.8374999999999995" ry="3.2175" transform="rotate(-6 291.45 214.975)" fill="#000" fill-opacity="0.05986615722992292" stroke="#000" stroke-width="0.5" stroke-opacity="0.7749999999999999"/>
<ellipse cx="290.2" cy="215.35" rx="6.175" ry="2.535" transform="rotate(-6 290.2 215.35)" fill="#000" fill-opacity="0.10881726145854072" stroke="#000" stroke-width="0.5" stroke-opacity="0.85"/>
<ellipse cx="288.95" cy="215.725" rx="4.512500000000001" ry="1.8525000000000003" transform="rotate(-6 288.95 215.725)" fill="#000" fill-opacity="0.16904299172134826" stroke="#000" stroke-width="0.5" stroke-opacity="0.9249999999999999"/>
<ellipse cx="287.7" cy="216.1" rx="2.8500000000000005" ry="1.1700000000000002" transform="rotate(-6 287.7 216.1)" fill="#000" fill-opacity="0.23800000000000002" stroke="#000" stroke-width="0.5" stroke-opacity="1.0"/>
<ellipse cx="314.5" cy="189.0" rx="4.6" ry="5.2" transform="rotate(0 314.5 189.0)" fill="none" fill-opacity="1" stroke="#222" stroke-width="0.55" stroke-opacity="0.9"/>
<ellipse cx="314.6" cy="189.4" rx="2.6" ry="2.8" transform="rotate(0 314.6 189.4)" fill="none" fill-opacity="1" stroke="#222" stroke-width="0.55" stroke-opacity="0.9"/>
<ellipse cx="314.6" cy="189.6" rx="1.0" ry="1.0" transform="rotate(0 314.6 189.6)" fill="none" fill-opacity="1" stroke="#222" stroke-width="0.55" stroke-opacity="0.9"/>
<path d="M311,193.6 C310.5,197 309.5,199 308.5,202 M318,193.6 C318.5,197 319.5,199 320.5,202" stroke="#222" stroke-width="0.5" fill="none"/>
<ellipse cx="314.3" cy="206.5" rx="7.0" ry="10.0" transform="rotate(0 314.3 206.5)" fill="#000" fill-opacity="0.03" stroke="#000" stroke-width="0.5" stroke-opacity="0.7"/>
<ellipse cx="314.51428571428573" cy="207.0" rx="6.3" ry="9.0" transform="rotate(0 314.51428571428573 207.0)" fill="#000" fill-opacity="0.05558157921202562" stroke="#000" stroke-width="0.5" stroke-opacity="0.7428571428571428"/>
<ellipse cx="314.72857142857146" cy="207.5" rx="5.6000000000000005" ry="8.0" transform="rotate(0 314.72857142857146 207.5)" fill="#000" fill-opacity="0.09751019228066245" stroke="#000" stroke-width="0.5" stroke-opacity="0.7857142857142857"/>
<ellipse cx="314.9428571428572" cy="208.0" rx="4.8999999999999995" ry="7.0" transform="rotate(0 314.9428571428572 208.0)" fill="#000" fill-opacity="0.14909598142184138" stroke="#000" stroke-width="0.5" stroke-opacity="0.8285714285714285"/>
<ellipse cx="315.15714285714284" cy="208.5" rx="4.200000000000001" ry="6.000000000000001" transform="rotate(0 315.15714285714284 208.5)" fill="#000" fill-opacity="0.20816046554426654" stroke="#000" stroke-width="0.5" stroke-opacity="0.8714285714285713"/>
<ellipse cx="315.37142857142857" cy="209.0" rx="3.5" ry="5.0" transform="rotate(0 315.37142857142857 209.0)" fill="#000" fill-opacity="0.273492370127724" stroke="#000" stroke-width="0.5" stroke-opacity="0.9142857142857143"/>
<ellipse cx="315.5857142857143" cy="209.5" rx="2.8000000000000003" ry="4.0" transform="rotate(0 315.5857142857143 209.5)" fill="#000" fill-opacity="0.34429617925476264" stroke="#000" stroke-width="0.5" stroke-opacity="0.9571428571428571"/>
<ellipse cx="315.8" cy="210.0" rx="2.1000000000000005" ry="3.0000000000000004" transform="rotate(0 315.8 210.0)" fill="#000" fill-opacity="0.42000000000000004" stroke="#000" stroke-width="0.5" stroke-opacity="1.0"/>
<line x1="305.0" y1="167.9" x2="305.0" y2="224.7" stroke="#3a76ad" stroke-width="1.0" />
<line x1="278.1" y1="211.9" x2="335.2" y2="211.9" stroke="#3a76ad" stroke-width="1.0" />
<line x1="277.40000000000003" y1="172.21666666666667" x2="278.8" y2="172.21666666666667" stroke="#333" stroke-width="0.5" />
<line x1="277.40000000000003" y1="177.03333333333333" x2="278.8" y2="177.03333333333333" stroke="#333" stroke-width="0.5" />
<line x1="277.40000000000003" y1="181.85" x2="278.8" y2="181.85" stroke="#333" stroke-width="0.5" />
<line x1="277.40000000000003" y1="186.66666666666666" x2="278.8" y2="186.66666666666666" stroke="#333" stroke-width="0.5" />
<line x1="277.40000000000003" y1="191.48333333333332" x2="278.8" y2="191.48333333333332" stroke="#333" stroke-width="0.5" />
<line x1="277.40000000000003" y1="196.3" x2="278.8" y2="196.3" stroke="#333" stroke-width="0.5" />
<line x1="277.40000000000003" y1="201.11666666666667" x2="278.8" y2="201.11666666666667" stroke="#333" stroke-width="0.5" />
<line x1="277.40000000000003" y1="205.93333333333334" x2="278.8" y2="205.93333333333334" stroke="#333" stroke-width="0.5" />
<line x1="277.40000000000003" y1="210.75" x2="278.8" y2="210.75" stroke="#333" stroke-width="0.5" />
<line x1="277.40000000000003" y1="215.56666666666666" x2="278.8" y2="215.56666666666666" stroke="#333" stroke-width="0.5" />
<line x1="277.40000000000003" y1="220.38333333333333" x2="278.8" y2="220.38333333333333" stroke="#333" stroke-width="0.5" />
<line x1="282.44166666666666" y1="224.0" x2="282.44166666666666" y2="225.39999999999998" stroke="#333" stroke-width="0.5" />
<line x1="287.28333333333336" y1="224.0" x2="287.28333333333336" y2="225.39999999999998" stroke="#333" stroke-width="0.5" />
<line x1="292.125" y1="224.0" x2="292.125" y2="225.39999999999998" stroke="#333" stroke-width="0.5" />
<line x1="296.9666666666667" y1="224.0" x2="296.9666666666667" y2="225.39999999999998" stroke="#333" stroke-width="0.5" />
<line x1="301.80833333333334" y1="224.0" x2="301.80833333333334" y2="225.39999999999998" stroke="#333" stroke-width="0.5" />
<line x1="306.65" y1="224.0" x2="306.65" y2="225.39999999999998" stroke="#333" stroke-width="0.5" />
<line x1="311.4916666666667" y1="224.0" x2="311.4916666666667" y2="225.39999999999998" stroke="#333" stroke-width="0.5" />
<line x1="316.3333333333333" y1="224.0" x2="316.3333333333333" y2="225.39999999999998" stroke="#333" stroke-width="0.5" />
<line x1="321.175" y1="224.0" x2="321.175" y2="225.39999999999998" stroke="#333" stroke-width="0.5" />
<line x1="326.01666666666665" y1="224.0" x2="326.01666666666665" y2="225.39999999999998" stroke="#333" stroke-width="0.5" />
<line x1="330.85833333333335" y1="224.0" x2="330.85833333333335" y2="225.39999999999998" stroke="#333" stroke-width="0.5" />
<text x="279.20000000000005" y="173.3" font-size="6.2" text-anchor="start" fill="#2d6aa3" stroke="#2d6aa3" font-weight="normal" >1.61</text>
<text x="334.7" y="173.3" font-size="6.2" text-anchor="end" fill="#2d6aa3" stroke="#2d6aa3" font-weight="normal" >65.3</text>
<text x="279.20000000000005" y="223.6" font-size="6.2" text-anchor="start" fill="#2d6aa3" stroke="#2d6aa3" font-weight="normal" >14.2</text>
<text x="334.7" y="223.6" font-size="6.2" text-anchor="end" fill="#2d6aa3" stroke="#2d6aa3" font-weight="normal" >18.9</text>
<rect x="217.3" y="228.2" width="58.19999999999999" height="58.30000000000001" fill="#fff" stroke="#505050" stroke-width="0.9"/>
<ellipse cx="236.0" cy="275.5" rx="12.0" ry="4.6" transform="rotate(-10 236.0 275.5)" fill="none" fill-opacity="1" stroke="#222" stroke-width="0.55" stroke-opacity="0.9"/>
<ellipse cx="232.5" cy="277.0" rx="10.5" ry="3.8" transform="rotate(-4 232.5 277.0)" fill="#000" fill-opacity="0.03" stroke="#000" stroke-width="0.5" stroke-opacity="0.7"/>
<ellipse cx="232.0" cy="277.05" rx="9.1875" ry="3.3249999999999997" transform="rotate(-4 232.0 277.05)" fill="#000" fill-opacity="0.07232447630065086" stroke="#000" stroke-width="0.5" stroke-opacity="0.75"/>
<ellipse cx="231.5" cy="277.1" rx="7.875" ry="2.8499999999999996" transform="rotate(-4 231.5 277.1)" fill="#000" fill-opacity="0.1416949625960574" stroke="#000" stroke-width="0.5" stroke-opacity="0.7999999999999999"/>
<ellipse cx="231.0" cy="277.15" rx="6.5625" ry="2.375" transform="rotate(-4 231.0 277.15)" fill="#000" fill-opacity="0.22704315364635178" stroke="#000" stroke-width="0.5" stroke-opacity="0.85"/>
<ellipse cx="230.5" cy="277.2" rx="5.25" ry="1.9" transform="rotate(-4 230.5 277.2)" fill="#000" fill-opacity="0.3247647734779605" stroke="#000" stroke-width="0.5" stroke-opacity="0.8999999999999999"/>
<ellipse cx="230.0" cy="277.25" rx="3.9375" ry="1.4249999999999998" transform="rotate(-4 230.0 277.25)" fill="#000" fill-opacity="0.4328557800691044" stroke="#000" stroke-width="0.5" stroke-opacity="0.95"/>
<ellipse cx="229.5" cy="277.3" rx="2.625" ry="0.95" transform="rotate(-4 229.5 277.3)" fill="#000" fill-opacity="0.55" stroke="#000" stroke-width="0.5" stroke-opacity="1.0"/>
<ellipse cx="251.2" cy="251.5" rx="5.2" ry="5.2" transform="rotate(0 251.2 251.5)" fill="none" fill-opacity="1" stroke="#222" stroke-width="0.55" stroke-opacity="0.9"/>
<ellipse cx="251.0" cy="251.5" rx="2.4" ry="1.9" transform="rotate(0 251.0 251.5)" fill="none" fill-opacity="1" stroke="#222" stroke-width="0.55" stroke-opacity="0.9"/>
<path d="M247,255 C246,259 245.5,262 245.5,266 M256,254 C258,258 259,260 260.5,264" stroke="#222" stroke-width="0.5" fill="none"/>
<ellipse cx="253.5" cy="265.5" rx="6.5" ry="9.5" transform="rotate(15 253.5 265.5)" fill="#000" fill-opacity="0.03" stroke="#000" stroke-width="0.5" stroke-opacity="0.7"/>
<ellipse cx="253.57142857142858" cy="265.64285714285717" rx="5.803571428571429" ry="8.482142857142858" transform="rotate(15 253.57142857142858 265.64285714285717)" fill="#000" fill-opacity="0.05558157921202562" stroke="#000" stroke-width="0.5" stroke-opacity="0.7428571428571428"/>
<ellipse cx="253.64285714285714" cy="265.7857142857143" rx="5.107142857142857" ry="7.464285714285714" transform="rotate(15 253.64285714285714 265.7857142857143)" fill="#000" fill-opacity="0.09751019228066245" stroke="#000" stroke-width="0.5" stroke-opacity="0.7857142857142857"/>
<ellipse cx="253.71428571428572" cy="265.92857142857144" rx="4.410714285714286" ry="6.446428571428572" transform="rotate(15 253.71428571428572 265.92857142857144)" fill="#000" fill-opacity="0.14909598142184138" stroke="#000" stroke-width="0.5" stroke-opacity="0.8285714285714285"/>
<ellipse cx="253.78571428571428" cy="266.07142857142856" rx="3.714285714285714" ry="5.428571428571428" transform="rotate(15 253.78571428571428 266.07142857142856)" fill="#000" fill-opacity="0.20816046554426654" stroke="#000" stroke-width="0.5" stroke-opacity="0.8714285714285713"/>
<ellipse cx="253.85714285714286" cy="266.2142857142857" rx="3.017857142857143" ry="4.410714285714286" transform="rotate(15 253.85714285714286 266.2142857142857)" fill="#000" fill-opacity="0.273492370127724" stroke="#000" stroke-width="0.5" stroke-opacity="0.9142857142857143"/>
<ellipse cx="253.92857142857142" cy="266.35714285714283" rx="2.321428571428572" ry="3.3928571428571432" transform="rotate(15 253.92857142857142 266.35714285714283)" fill="#000" fill-opacity="0.34429617925476264" stroke="#000" stroke-width="0.5" stroke-opacity="0.9571428571428571"/>
<ellipse cx="254.0" cy="266.5" rx="1.625" ry="2.375" transform="rotate(15 254.0 266.5)" fill="#000" fill-opacity="0.42000000000000004" stroke="#000" stroke-width="0.5" stroke-opacity="1.0"/>
<line x1="244.6" y1="228.7" x2="244.6" y2="286.0" stroke="#3a76ad" stroke-width="1.0" />
<line x1="217.8" y1="272.6" x2="275.0" y2="272.6" stroke="#3a76ad" stroke-width="1.0" />
<line x1="217.10000000000002" y1="233.05833333333334" x2="218.5" y2="233.05833333333334" stroke="#333" stroke-width="0.5" />
<line x1="217.10000000000002" y1="237.91666666666666" x2="218.5" y2="237.91666666666666" stroke="#333" stroke-width="0.5" />
<line x1="217.10000000000002" y1="242.77499999999998" x2="218.5" y2="242.77499999999998" stroke="#333" stroke-width="0.5" />
<line x1="217.10000000000002" y1="247.63333333333333" x2="218.5" y2="247.63333333333333" stroke="#333" stroke-width="0.5" />
<line x1="217.10000000000002" y1="252.49166666666667" x2="218.5" y2="252.49166666666667" stroke="#333" stroke-width="0.5" />
<line x1="217.10000000000002" y1="257.35" x2="218.5" y2="257.35" stroke="#333" stroke-width="0.5" />
<line x1="217.10000000000002" y1="262.2083333333333" x2="218.5" y2="262.2083333333333" stroke="#333" stroke-width="0.5" />
<line x1="217.10000000000002" y1="267.06666666666666" x2="218.5" y2="267.06666666666666" stroke="#333" stroke-width="0.5" />
<line x1="217.10000000000002" y1="271.925" x2="218.5" y2="271.925" stroke="#333" stroke-width="0.5" />
<line x1="217.10000000000002" y1="276.7833333333333" x2="218.5" y2="276.7833333333333" stroke="#333" stroke-width="0.5" />
<line x1="217.10000000000002" y1="281.64166666666665" x2="218.5" y2="281.64166666666665" stroke="#333" stroke-width="0.5" />
<line x1="222.15" y1="285.3" x2="222.15" y2="286.7" stroke="#333" stroke-width="0.5" />
<line x1="227.0" y1="285.3" x2="227.0" y2="286.7" stroke="#333" stroke-width="0.5" />
<line x1="231.85000000000002" y1="285.3" x2="231.85000000000002" y2="286.7" stroke="#333" stroke-width="0.5" />
<line x1="236.70000000000002" y1="285.3" x2="236.70000000000002" y2="286.7" stroke="#333" stroke-width="0.5" />
<line x1="241.55" y1="285.3" x2="241.55" y2="286.7" stroke="#333" stroke-width="0.5" />
<line x1="246.4" y1="285.3" x2="246.4" y2="286.7" stroke="#333" stroke-width="0.5" />
<line x1="251.25" y1="285.3" x2="251.25" y2="286.7" stroke="#333" stroke-width="0.5" />
<line x1="256.1" y1="285.3" x2="256.1" y2="286.7" stroke="#333" stroke-width="0.5" />
<line x1="260.95" y1="285.3" x2="260.95" y2="286.7" stroke="#333" stroke-width="0.5" />
<line x1="265.8" y1="285.3" x2="265.8" y2="286.7" stroke="#333" stroke-width="0.5" />
<line x1="270.65" y1="285.3" x2="270.65" y2="286.7" stroke="#333" stroke-width="0.5" />
<text x="218.9" y="234.1" font-size="6.2" text-anchor="start" fill="#2d6aa3" stroke="#2d6aa3" font-weight="normal" >2.98</text>
<text x="274.5" y="234.1" font-size="6.2" text-anchor="end" fill="#2d6aa3" stroke="#2d6aa3" font-weight="normal" >47.6</text>
<text x="218.9" y="284.9" font-size="6.2" text-anchor="start" fill="#2d6aa3" stroke="#2d6aa3" font-weight="normal" >43.4</text>
<text x="274.5" y="284.9" font-size="6.2" text-anchor="end" fill="#2d6aa3" stroke="#2d6aa3" font-weight="normal" >6.04</text>
<rect x="277.6" y="228.2" width="58.099999999999966" height="58.30000000000001" fill="#fff" stroke="#505050" stroke-width="0.9"/>
<ellipse cx="314.0" cy="269.8" rx="6.9" ry="5.6" transform="rotate(-45 314.0 269.8)" fill="#000" fill-opacity="0.03" stroke="#000" stroke-width="0.5" stroke-opacity="0.7"/>
<ellipse cx="314.07142857142856" cy="269.84285714285716" rx="6.1607142857142865" ry="5.0" transform="rotate(-45 314.07142857142856 269.84285714285716)" fill="#000" fill-opacity="0.06240333366856578" stroke="#000" stroke-width="0.5" stroke-opacity="0.7428571428571428"/>
<ellipse cx="314.14285714285717" cy="269.8857142857143" rx="5.421428571428572" ry="4.3999999999999995" transform="rotate(-45 314.14285714285717 269.8857142857143)" fill="#000" fill-opacity="0.11551291022217243" stroke="#000" stroke-width="0.5" stroke-opacity="0.7857142857142857"/>
<ellipse cx="314.2142857142857" cy="269.92857142857144" rx="4.682142857142858" ry="3.8" transform="rotate(-45 314.2142857142857 269.92857142857144)" fill="#000" fill-opacity="0.18085490980099908" stroke="#000" stroke-width="0.5" stroke-opacity="0.8285714285714285"/>
<ellipse cx="314.2857142857143" cy="269.9714285714286" rx="3.942857142857143" ry="3.1999999999999997" transform="rotate(-45 314.2857142857143 269.9714285714286)" fill="#000" fill-opacity="0.2556699230227376" stroke="#000" stroke-width="0.5" stroke-opacity="0.8714285714285713"/>
<ellipse cx="314.35714285714283" cy="270.01428571428573" rx="3.2035714285714287" ry="2.6" transform="rotate(-45 314.35714285714283 270.01428571428573)" fill="#000" fill-opacity="0.33842366882845043" stroke="#000" stroke-width="0.5" stroke-opacity="0.9142857142857143"/>
<ellipse cx="314.42857142857144" cy="270.0571428571429" rx="2.464285714285715" ry="2.0000000000000004" transform="rotate(-45 314.42857142857144 270.0571428571429)" fill="#000" fill-opacity="0.4281084937226993" stroke="#000" stroke-width="0.5" stroke-opacity="0.9571428571428571"/>
<ellipse cx="314.5" cy="270.1" rx="1.725" ry="1.4" transform="rotate(-45 314.5 270.1)" fill="#000" fill-opacity="0.524" stroke="#000" stroke-width="0.5" stroke-opacity="1.0"/>
<line x1="305.0" y1="228.7" x2="305.0" y2="286.0" stroke="#3a76ad" stroke-width="1.0" />
<line x1="278.1" y1="272.6" x2="335.2" y2="272.6" stroke="#3a76ad" stroke-width="1.0" />
<line x1="277.40000000000003" y1="233.05833333333334" x2="278.8" y2="233.05833333333334" stroke="#333" stroke-width="0.5" />
<line x1="277.40000000000003" y1="237.91666666666666" x2="278.8" y2="237.91666666666666" stroke="#333" stroke-width="0.5" />
<line x1="277.40000000000003" y1="242.77499999999998" x2="278.8" y2="242.77499999999998" stroke="#333" stroke-width="0.5" />
<line x1="277.40000000000003" y1="247.63333333333333" x2="278.8" y2="247.63333333333333" stroke="#333" stroke-width="0.5" />
<line x1="277.40000000000003" y1="252.49166666666667" x2="278.8" y2="252.49166666666667" stroke="#333" stroke-width="0.5" />
<line x1="277.40000000000003" y1="257.35" x2="278.8" y2="257.35" stroke="#333" stroke-width="0.5" />
<line x1="277.40000000000003" y1="262.2083333333333" x2="278.8" y2="262.2083333333333" stroke="#333" stroke-width="0.5" />
<line x1="277.40000000000003" y1="267.06666666666666" x2="278.8" y2="267.06666666666666" stroke="#333" stroke-width="0.5" />
<line x1="277.40000000000003" y1="271.925" x2="278.8" y2="271.925" stroke="#333" stroke-width="0.5" />
<line x1="277.40000000000003" y1="276.7833333333333" x2="278.8" y2="276.7833333333333" stroke="#333" stroke-width="0.5" />
<line x1="277.40000000000003" y1="281.64166666666665" x2="278.8" y2="281.64166666666665" stroke="#333" stroke-width="0.5" />
<line x1="282.44166666666666" y1="285.3" x2="282.44166666666666" y2="286.7" stroke="#333" stroke-width="0.5" />
<line x1="287.28333333333336" y1="285.3" x2="287.28333333333336" y2="286.7" stroke="#333" stroke-width="0.5" />
<line x1="292.125" y1="285.3" x2="292.125" y2="286.7" stroke="#333" stroke-width="0.5" />
<line x1="296.9666666666667" y1="285.3" x2="296.9666666666667" y2="286.7" stroke="#333" stroke-width="0.5" />
<line x1="301.80833333333334" y1="285.3" x2="301.80833333333334" y2="286.7" stroke="#333" stroke-width="0.5" />
<line x1="306.65" y1="285.3" x2="306.65" y2="286.7" stroke="#333" stroke-width="0.5" />
<line x1="311.4916666666667" y1="285.3" x2="311.4916666666667" y2="286.7" stroke="#333" stroke-width="0.5" />
<line x1="316.3333333333333" y1="285.3" x2="316.3333333333333" y2="286.7" stroke="#333" stroke-width="0.5" />
<line x1="321.175" y1="285.3" x2="321.175" y2="286.7" stroke="#333" stroke-width="0.5" />
<line x1="326.01666666666665" y1="285.3" x2="326.01666666666665" y2="286.7" stroke="#333" stroke-width="0.5" />
<line x1="330.85833333333335" y1="285.3" x2="330.85833333333335" y2="286.7" stroke="#333" stroke-width="0.5" />
<text x="279.20000000000005" y="234.1" font-size="6.2" text-anchor="start" fill="#2d6aa3" stroke="#2d6aa3" font-weight="normal" >0.229</text>
<text x="334.7" y="234.1" font-size="6.2" text-anchor="end" fill="#2d6aa3" stroke="#2d6aa3" font-weight="normal" >80.3</text>
<text x="279.20000000000005" y="284.9" font-size="6.2" text-anchor="start" fill="#2d6aa3" stroke="#2d6aa3" font-weight="normal" >0.992</text>
<text x="334.7" y="284.9" font-size="6.2" text-anchor="end" fill="#2d6aa3" stroke="#2d6aa3" font-weight="normal" >18.5</text>
<rect x="217.3" y="290.2" width="58.19999999999999" height="58.30000000000001" fill="#fff" stroke="#505050" stroke-width="0.9"/>
<ellipse cx="238.5" cy="337.5" rx="9.0" ry="3.3" transform="rotate(0 238.5 337.5)" fill="none" fill-opacity="1" stroke="#222" stroke-width="0.55" stroke-opacity="0.9"/>
<ellipse cx="241.0" cy="336.2" rx="6.0" ry="2.4" transform="rotate(-8 241.0 336.2)" fill="none" fill-opacity="1" stroke="#222" stroke-width="0.55" stroke-opacity="0.9"/>
<ellipse cx="252.0" cy="312.8" rx="4.0" ry="5.0" transform="rotate(0 252.0 312.8)" fill="none" fill-opacity="1" stroke="#222" stroke-width="0.55" stroke-opacity="0.9"/>
<path d="M250,317.3 C249,320 247,322 246,325 M254.5,317 C256,319.5 258,321 260,323" stroke="#222" stroke-width="0.5" fill="none"/>
<ellipse cx="254.6" cy="330.6" rx="7.2" ry="9.5" transform="rotate(0 254.6 330.6)" fill="#000" fill-opacity="0.03" stroke="#000" stroke-width="0.5" stroke-opacity="0.7"/>
<ellipse cx="254.81428571428572" cy="330.8857142857143" rx="6.428571428571429" ry="8.482142857142858" transform="rotate(0 254.81428571428572 330.8857142857143)" fill="#000" fill-opacity="0.06069789505443074" stroke="#000" stroke-width="0.5" stroke-opacity="0.7428571428571428"/>
<ellipse cx="255.0285714285714" cy="331.1714285714286" rx="5.6571428571428575" ry="7.464285714285714" transform="rotate(0 255.0285714285714 331.1714285714286)" fill="#000" fill-opacity="0.11101223073679493" stroke="#000" stroke-width="0.5" stroke-opacity="0.7857142857142857"/>
<ellipse cx="255.24285714285713" cy="331.45714285714286" rx="4.885714285714286" ry="6.446428571428572" transform="rotate(0 255.24285714285713 331.45714285714286)" fill="#000" fill-opacity="0.17291517770620968" stroke="#000" stroke-width="0.5" stroke-opacity="0.8285714285714285"/>
<ellipse cx="255.45714285714286" cy="331.7428571428572" rx="4.114285714285714" ry="5.428571428571428" transform="rotate(0 255.45714285714286 331.7428571428572)" fill="#000" fill-opacity="0.24379255865311986" stroke="#000" stroke-width="0.5" stroke-opacity="0.8714285714285713"/>
<ellipse cx="255.67142857142858" cy="332.02857142857147" rx="3.342857142857143" ry="4.410714285714286" transform="rotate(0 255.67142857142858 332.02857142857147)" fill="#000" fill-opacity="0.3221908441532688" stroke="#000" stroke-width="0.5" stroke-opacity="0.9142857142857143"/>
<ellipse cx="255.88571428571427" cy="332.31428571428575" rx="2.571428571428572" ry="3.3928571428571432" transform="rotate(0 255.88571428571427 332.31428571428575)" fill="#000" fill-opacity="0.4071554151057152" stroke="#000" stroke-width="0.5" stroke-opacity="0.9571428571428571"/>
<ellipse cx="256.1" cy="332.6" rx="1.8" ry="2.375" transform="rotate(0 256.1 332.6)" fill="#000" fill-opacity="0.498" stroke="#000" stroke-width="0.5" stroke-opacity="1.0"/>
<line x1="244.6" y1="290.7" x2="244.6" y2="348.0" stroke="#3a76ad" stroke-width="1.0" />
<line x1="217.8" y1="334.8" x2="275.0" y2="334.8" stroke="#3a76ad" stroke-width="1.0" />
<line x1="217.10000000000002" y1="295.05833333333334" x2="218.5" y2="295.05833333333334" stroke="#333" stroke-width="0.5" />
<line x1="217.10000000000002" y1="299.91666666666663" x2="218.5" y2="299.91666666666663" stroke="#333" stroke-width="0.5" />
<line x1="217.10000000000002" y1="304.775" x2="218.5" y2="304.775" stroke="#333" stroke-width="0.5" />
<line x1="217.10000000000002" y1="309.6333333333333" x2="218.5" y2="309.6333333333333" stroke="#333" stroke-width="0.5" />
<line x1="217.10000000000002" y1="314.4916666666667" x2="218.5" y2="314.4916666666667" stroke="#333" stroke-width="0.5" />
<line x1="217.10000000000002" y1="319.35" x2="218.5" y2="319.35" stroke="#333" stroke-width="0.5" />
<line x1="217.10000000000002" y1="324.2083333333333" x2="218.5" y2="324.2083333333333" stroke="#333" stroke-width="0.5" />
<line x1="217.10000000000002" y1="329.06666666666666" x2="218.5" y2="329.06666666666666" stroke="#333" stroke-width="0.5" />
<line x1="217.10000000000002" y1="333.925" x2="218.5" y2="333.925" stroke="#333" stroke-width="0.5" />
<line x1="217.10000000000002" y1="338.7833333333333" x2="218.5" y2="338.7833333333333" stroke="#333" stroke-width="0.5" />
<line x1="217.10000000000002" y1="343.64166666666665" x2="218.5" y2="343.64166666666665" stroke="#333" stroke-width="0.5" />
<line x1="222.15" y1="347.3" x2="222.15" y2="348.7" stroke="#333" stroke-width="0.5" />
<line x1="227.0" y1="347.3" x2="227.0" y2="348.7" stroke="#333" stroke-width="0.5" />
<line x1="231.85000000000002" y1="347.3" x2="231.85000000000002" y2="348.7" stroke="#333" stroke-width="0.5" />
<line x1="236.70000000000002" y1="347.3" x2="236.70000000000002" y2="348.7" stroke="#333" stroke-width="0.5" />
<line x1="241.55" y1="347.3" x2="241.55" y2="348.7" stroke="#333" stroke-width="0.5" />
<line x1="246.4" y1="347.3" x2="246.4" y2="348.7" stroke="#333" stroke-width="0.5" />
<line x1="251.25" y1="347.3" x2="251.25" y2="348.7" stroke="#333" stroke-width="0.5" />
<line x1="256.1" y1="347.3" x2="256.1" y2="348.7" stroke="#333" stroke-width="0.5" />
<line x1="260.95" y1="347.3" x2="260.95" y2="348.7" stroke="#333" stroke-width="0.5" />
<line x1="265.8" y1="347.3" x2="265.8" y2="348.7" stroke="#333" stroke-width="0.5" />
<line x1="270.65" y1="347.3" x2="270.65" y2="348.7" stroke="#333" stroke-width="0.5" />
<text x="218.9" y="296.09999999999997" font-size="6.2" text-anchor="start" fill="#2d6aa3" stroke="#2d6aa3" font-weight="normal" >2.22</text>
<text x="274.5" y="296.09999999999997" font-size="6.2" text-anchor="end" fill="#2d6aa3" stroke="#2d6aa3" font-weight="normal" >81.1</text>
<text x="218.9" y="346.9" font-size="6.2" text-anchor="start" fill="#2d6aa3" stroke="#2d6aa3" font-weight="normal" >3.69</text>
<text x="274.5" y="346.9" font-size="6.2" text-anchor="end" fill="#2d6aa3" stroke="#2d6aa3" font-weight="normal" >13</text>
<rect x="277.6" y="290.2" width="58.099999999999966" height="58.30000000000001" fill="#fff" stroke="#505050" stroke-width="0.9"/>
<ellipse cx="313.7" cy="331.4" rx="7.4" ry="5.7" transform="rotate(-65 313.7 331.4)" fill="#000" fill-opacity="0.03" stroke="#000" stroke-width="0.5" stroke-opacity="0.7"/>
<ellipse cx="313.7" cy="331.4" rx="6.607142857142858" ry="5.089285714285714" transform="rotate(-65 313.7 331.4)" fill="#000" fill-opacity="0.06240333366856578" stroke="#000" stroke-width="0.5" stroke-opacity="0.7428571428571428"/>
<ellipse cx="313.7" cy="331.4" rx="5.814285714285714" ry="4.478571428571429" transform="rotate(-65 313.7 331.4)" fill="#000" fill-opacity="0.11551291022217243" stroke="#000" stroke-width="0.5" stroke-opacity="0.7857142857142857"/>
<ellipse cx="313.7" cy="331.4" rx="5.021428571428572" ry="3.8678571428571433" transform="rotate(-65 313.7 331.4)" fill="#000" fill-opacity="0.18085490980099908" stroke="#000" stroke-width="0.5" stroke-opacity="0.8285714285714285"/>
<ellipse cx="313.7" cy="331.4" rx="4.228571428571429" ry="3.257142857142857" transform="rotate(-65 313.7 331.4)" fill="#000" fill-opacity="0.2556699230227376" stroke="#000" stroke-width="0.5" stroke-opacity="0.8714285714285713"/>
<ellipse cx="313.7" cy="331.4" rx="3.435714285714286" ry="2.646428571428572" transform="rotate(-65 313.7 331.4)" fill="#000" fill-opacity="0.33842366882845043" stroke="#000" stroke-width="0.5" stroke-opacity="0.9142857142857143"/>
<ellipse cx="313.7" cy="331.4" rx="2.6428571428571432" ry="2.035714285714286" transform="rotate(-65 313.7 331.4)" fill="#000" fill-opacity="0.4281084937226993" stroke="#000" stroke-width="0.5" stroke-opacity="0.9571428571428571"/>
<ellipse cx="313.7" cy="331.4" rx="1.85" ry="1.425" transform="rotate(-65 313.7 331.4)" fill="#000" fill-opacity="0.524" stroke="#000" stroke-width="0.5" stroke-opacity="1.0"/>
<line x1="305.0" y1="290.7" x2="305.0" y2="348.0" stroke="#3a76ad" stroke-width="1.0" />
<line x1="278.1" y1="334.8" x2="335.2" y2="334.8" stroke="#3a76ad" stroke-width="1.0" />
<line x1="277.40000000000003" y1="295.05833333333334" x2="278.8" y2="295.05833333333334" stroke="#333" stroke-width="0.5" />
<line x1="277.40000000000003" y1="299.91666666666663" x2="278.8" y2="299.91666666666663" stroke="#333" stroke-width="0.5" />
<line x1="277.40000000000003" y1="304.775" x2="278.8" y2="304.775" stroke="#333" stroke-width="0.5" />
<line x1="277.40000000000003" y1="309.6333333333333" x2="278.8" y2="309.6333333333333" stroke="#333" stroke-width="0.5" />
<line x1="277.40000000000003" y1="314.4916666666667" x2="278.8" y2="314.4916666666667" stroke="#333" stroke-width="0.5" />
<line x1="277.40000000000003" y1="319.35" x2="278.8" y2="319.35" stroke="#333" stroke-width="0.5" />
<line x1="277.40000000000003" y1="324.2083333333333" x2="278.8" y2="324.2083333333333" stroke="#333" stroke-width="0.5" />
<line x1="277.40000000000003" y1="329.06666666666666" x2="278.8" y2="329.06666666666666" stroke="#333" stroke-width="0.5" />
<line x1="277.40000000000003" y1="333.925" x2="278.8" y2="333.925" stroke="#333" stroke-width="0.5" />
<line x1="277.40000000000003" y1="338.7833333333333" x2="278.8" y2="338.7833333333333" stroke="#333" stroke-width="0.5" />
<line x1="277.40000000000003" y1="343.64166666666665" x2="278.8" y2="343.64166666666665" stroke="#333" stroke-width="0.5" />
<line x1="282.44166666666666" y1="347.3" x2="282.44166666666666" y2="348.7" stroke="#333" stroke-width="0.5" />
<line x1="287.28333333333336" y1="347.3" x2="287.28333333333336" y2="348.7" stroke="#333" stroke-width="0.5" />
<line x1="292.125" y1="347.3" x2="292.125" y2="348.7" stroke="#333" stroke-width="0.5" />
<line x1="296.9666666666667" y1="347.3" x2="296.9666666666667" y2="348.7" stroke="#333" stroke-width="0.5" />
<line x1="301.80833333333334" y1="347.3" x2="301.80833333333334" y2="348.7" stroke="#333" stroke-width="0.5" />
<line x1="306.65" y1="347.3" x2="306.65" y2="348.7" stroke="#333" stroke-width="0.5" />
<line x1="311.4916666666667" y1="347.3" x2="311.4916666666667" y2="348.7" stroke="#333" stroke-width="0.5" />
<line x1="316.3333333333333" y1="347.3" x2="316.3333333333333" y2="348.7" stroke="#333" stroke-width="0.5" />
<line x1="321.175" y1="347.3" x2="321.175" y2="348.7" stroke="#333" stroke-width="0.5" />
<line x1="326.01666666666665" y1="347.3" x2="326.01666666666665" y2="348.7" stroke="#333" stroke-width="0.5" />
<line x1="330.85833333333335" y1="347.3" x2="330.85833333333335" y2="348.7" stroke="#333" stroke-width="0.5" />
<text x="279.20000000000005" y="296.09999999999997" font-size="6.2" text-anchor="start" fill="#2d6aa3" stroke="#2d6aa3" font-weight="normal" >0.454</text>
<text x="334.7" y="296.09999999999997" font-size="6.2" text-anchor="end" fill="#2d6aa3" stroke="#2d6aa3" font-weight="normal" >88.6</text>
<text x="279.20000000000005" y="346.9" font-size="6.2" text-anchor="start" fill="#2d6aa3" stroke="#2d6aa3" font-weight="normal" >0.136</text>
<text x="334.7" y="346.9" font-size="6.2" text-anchor="end" fill="#2d6aa3" stroke="#2d6aa3" font-weight="normal" >10.8</text>
<text x="407.7" y="151.0" font-size="7.35" text-anchor="start" fill="#231f20" stroke="#231f20" font-weight="normal" >Ba/F3 MPLmu_R</text>
<text x="409.5" y="163.8" font-size="7.5" text-anchor="middle" fill="#231f20" stroke="#231f20" font-weight="normal" >DMSO</text>
<text x="476.4" y="163.8" font-size="7.5" text-anchor="middle" fill="#231f20" stroke="#231f20" font-weight="normal" >INCB 250nM</text>
<text x="371.1" y="169.0" font-size="7.5" text-anchor="end" fill="#231f20" stroke="#231f20" font-weight="normal" >DAPI</text>
<text x="370.6" y="200.9" font-size="7.5" text-anchor="end" fill="#231f20" stroke="#231f20" font-weight="normal" >DMSO</text>
<text x="370.6" y="260.6" font-size="7.5" text-anchor="end" fill="#231f20" stroke="#231f20" font-weight="normal" >KN93</text>
<text x="370.6" y="270.0" font-size="7.5" text-anchor="end" fill="#231f20" stroke="#231f20" font-weight="normal" >10&#956;M</text>
<text x="370.6" y="325.7" font-size="7.5" text-anchor="end" fill="#231f20" stroke="#231f20" font-weight="normal" >TFP</text>
<text x="370.6" y="335.2" font-size="7.5" text-anchor="end" fill="#231f20" stroke="#231f20" font-weight="normal" >10&#956;M</text>
<line x1="375" y1="173" x2="375" y2="356.7" stroke="#231f20" stroke-width="1.1" />
<path d="M372.8,174.5 L375,169.5 L377.2,174.5 Z" fill="#231f20"/>
<line x1="375" y1="356.7" x2="500" y2="356.7" stroke="#231f20" stroke-width="1.1" />
<path d="M499,354.5 L504,356.7 L499,358.9 Z" fill="#231f20"/>
<text x="495.2" y="367.0" font-size="7.4" text-anchor="end" fill="#231f20" stroke="#231f20" font-weight="normal" >Annexin V</text>
<rect x="380.2" y="166.4" width="59.0" height="59.19999999999999" fill="#fff" stroke="#505050" stroke-width="0.9"/>
<rect x="384.8" y="212.20000000000002" width="24.0" height="7.2" rx="3.6" ry="3.6" transform="rotate(0 396.8 215.8)" fill="#000" fill-opacity="0.03" stroke="#000" stroke-width="0.5" stroke-opacity="0.7"/>
<rect x="385.7666666666667" y="212.65" width="21.9" height="6.3" rx="3.15" ry="3.15" transform="rotate(0 396.7166666666667 215.8)" fill="#000" fill-opacity="0.059627133410455606" stroke="#000" stroke-width="0.5" stroke-opacity="0.75"/>
<rect x="386.73333333333335" y="213.10000000000002" width="19.799999999999997" height="5.4" rx="2.7" ry="2.7" transform="rotate(0 396.6333333333333 215.8)" fill="#000" fill-opacity="0.10818647381724018" stroke="#000" stroke-width="0.5" stroke-opacity="0.7999999999999999"/>
<rect x="387.7" y="213.55" width="17.700000000000003" height="4.5" rx="2.25" ry="2.25" transform="rotate(0 396.55 215.8)" fill="#000" fill-opacity="0.16793020755244623" stroke="#000" stroke-width="0.5" stroke-opacity="0.85"/>
<rect x="388.6666666666667" y="214.0" width="15.600000000000001" height="3.6" rx="1.8" ry="1.8" transform="rotate(0 396.4666666666667 215.8)" fill="#000" fill-opacity="0.23633534143457235" stroke="#000" stroke-width="0.5" stroke-opacity="0.8999999999999999"/>
<rect x="389.6333333333333" y="214.45000000000002" width="13.5" height="2.7" rx="1.35" ry="1.35" transform="rotate(0 396.3833333333333 215.8)" fill="#000" fill-opacity="0.31199904604837314" stroke="#000" stroke-width="0.5" stroke-opacity="0.95"/>
<rect x="390.6" y="214.9" width="11.400000000000002" height="1.8" rx="0.9" ry="0.9" transform="rotate(0 396.3 215.8)" fill="#000" fill-opacity="0.394" stroke="#000" stroke-width="0.5" stroke-opacity="1.0"/>
<ellipse cx="416.3" cy="209.0" rx="8.8" ry="5.3" transform="rotate(-38 416.3 209.0)" fill="none" fill-opacity="1" stroke="#222" stroke-width="0.55" stroke-opacity="0.9"/>
<ellipse cx="416.8" cy="208.8" rx="7.3" ry="4.2" transform="rotate(-38 416.8 208.8)" fill="#000" fill-opacity="0.03" stroke="#000" stroke-width="0.5" stroke-opacity="0.7"/>
<ellipse cx="416.90000000000003" cy="208.86" rx="6.278" ry="3.612" transform="rotate(-38 416.90000000000003 208.86)" fill="#000" fill-opacity="0.08463177833159838" stroke="#000" stroke-width="0.5" stroke-opacity="0.76"/>
<ellipse cx="417.0" cy="208.92000000000002" rx="5.255999999999999" ry="3.024" transform="rotate(-38 417.0 208.92000000000002)" fill="#000" fill-opacity="0.17417412737627047" stroke="#000" stroke-width="0.5" stroke-opacity="0.82"/>
<ellipse cx="417.1" cy="208.98000000000002" rx="4.234" ry="2.4360000000000004" transform="rotate(-38 417.1 208.98000000000002)" fill="#000" fill-opacity="0.2843402501970479" stroke="#000" stroke-width="0.5" stroke-opacity="0.8799999999999999"/>
<ellipse cx="417.2" cy="209.04000000000002" rx="3.212" ry="1.8480000000000003" transform="rotate(-38 417.2 209.04000000000002)" fill="#000" fill-opacity="0.41047780320353555" stroke="#000" stroke-width="0.5" stroke-opacity="0.94"/>
<ellipse cx="417.3" cy="209.10000000000002" rx="2.1900000000000004" ry="1.2600000000000002" transform="rotate(-38 417.3 209.10000000000002)" fill="#000" fill-opacity="0.55" stroke="#000" stroke-width="0.5" stroke-opacity="1.0"/>
<line x1="407.6" y1="166.9" x2="407.6" y2="225.1" stroke="#3a76ad" stroke-width="1.0" />
<line x1="380.7" y1="210.9" x2="438.7" y2="210.9" stroke="#3a76ad" stroke-width="1.0" />
<line x1="380.0" y1="171.33333333333334" x2="381.4" y2="171.33333333333334" stroke="#333" stroke-width="0.5" />
<line x1="380.0" y1="176.26666666666668" x2="381.4" y2="176.26666666666668" stroke="#333" stroke-width="0.5" />
<line x1="380.0" y1="181.2" x2="381.4" y2="181.2" stroke="#333" stroke-width="0.5" />
<line x1="380.0" y1="186.13333333333333" x2="381.4" y2="186.13333333333333" stroke="#333" stroke-width="0.5" />
<line x1="380.0" y1="191.06666666666666" x2="381.4" y2="191.06666666666666" stroke="#333" stroke-width="0.5" />
<line x1="380.0" y1="196.0" x2="381.4" y2="196.0" stroke="#333" stroke-width="0.5" />
<line x1="380.0" y1="200.93333333333334" x2="381.4" y2="200.93333333333334" stroke="#333" stroke-width="0.5" />
<line x1="380.0" y1="205.86666666666667" x2="381.4" y2="205.86666666666667" stroke="#333" stroke-width="0.5" />
<line x1="380.0" y1="210.8" x2="381.4" y2="210.8" stroke="#333" stroke-width="0.5" />
<line x1="380.0" y1="215.73333333333332" x2="381.4" y2="215.73333333333332" stroke="#333" stroke-width="0.5" />
<line x1="380.0" y1="220.66666666666666" x2="381.4" y2="220.66666666666666" stroke="#333" stroke-width="0.5" />
<line x1="385.1166666666667" y1="224.4" x2="385.1166666666667" y2="225.79999999999998" stroke="#333" stroke-width="0.5" />
<line x1="390.0333333333333" y1="224.4" x2="390.0333333333333" y2="225.79999999999998" stroke="#333" stroke-width="0.5" />
<line x1="394.95" y1="224.4" x2="394.95" y2="225.79999999999998" stroke="#333" stroke-width="0.5" />
<line x1="399.8666666666667" y1="224.4" x2="399.8666666666667" y2="225.79999999999998" stroke="#333" stroke-width="0.5" />
<line x1="404.7833333333333" y1="224.4" x2="404.7833333333333" y2="225.79999999999998" stroke="#333" stroke-width="0.5" />
<line x1="409.7" y1="224.4" x2="409.7" y2="225.79999999999998" stroke="#333" stroke-width="0.5" />
<line x1="414.6166666666667" y1="224.4" x2="414.6166666666667" y2="225.79999999999998" stroke="#333" stroke-width="0.5" />
<line x1="419.5333333333333" y1="224.4" x2="419.5333333333333" y2="225.79999999999998" stroke="#333" stroke-width="0.5" />
<line x1="424.45" y1="224.4" x2="424.45" y2="225.79999999999998" stroke="#333" stroke-width="0.5" />
<line x1="429.3666666666667" y1="224.4" x2="429.3666666666667" y2="225.79999999999998" stroke="#333" stroke-width="0.5" />
<line x1="434.2833333333333" y1="224.4" x2="434.2833333333333" y2="225.79999999999998" stroke="#333" stroke-width="0.5" />
<text x="381.8" y="172.3" font-size="6.2" text-anchor="start" fill="#2d6aa3" stroke="#2d6aa3" font-weight="normal" >1.41</text>
<text x="438.2" y="172.3" font-size="6.2" text-anchor="end" fill="#2d6aa3" stroke="#2d6aa3" font-weight="normal" >14.3</text>
<text x="381.8" y="224.0" font-size="6.2" text-anchor="start" fill="#2d6aa3" stroke="#2d6aa3" font-weight="normal" >72.2</text>
<text x="438.2" y="224.0" font-size="6.2" text-anchor="end" fill="#2d6aa3" stroke="#2d6aa3" font-weight="normal" >12.1</text>
<rect x="441.4" y="166.4" width="59.0" height="59.19999999999999" fill="#fff" stroke="#505050" stroke-width="0.9"/>
<rect x="446.7" y="211.6" width="24.6" height="7.6" rx="3.8" ry="3.8" transform="rotate(0 459.0 215.4)" fill="#000" fill-opacity="0.03" stroke="#000" stroke-width="0.5" stroke-opacity="0.7"/>
<rect x="447.6929166666667" y="212.07500000000002" width="22.4475" height="6.6499999999999995" rx="3.3249999999999997" ry="3.3249999999999997" transform="rotate(0 458.9166666666667 215.4)" fill="#000" fill-opacity="0.059627133410455606" stroke="#000" stroke-width="0.5" stroke-opacity="0.75"/>
<rect x="448.68583333333333" y="212.55" width="20.295" height="5.699999999999999" rx="2.8499999999999996" ry="2.8499999999999996" transform="rotate(0 458.8333333333333 215.4)" fill="#000" fill-opacity="0.10818647381724018" stroke="#000" stroke-width="0.5" stroke-opacity="0.7999999999999999"/>
<rect x="449.67875" y="213.025" width="18.142500000000002" height="4.75" rx="2.375" ry="2.375" transform="rotate(0 458.75 215.4)" fill="#000" fill-opacity="0.16793020755244623" stroke="#000" stroke-width="0.5" stroke-opacity="0.85"/>
<rect x="450.6716666666667" y="213.5" width="15.990000000000002" height="3.8" rx="1.9" ry="1.9" transform="rotate(0 458.6666666666667 215.4)" fill="#000" fill-opacity="0.23633534143457235" stroke="#000" stroke-width="0.5" stroke-opacity="0.8999999999999999"/>
<rect x="451.6645833333333" y="213.975" width="13.8375" height="2.8499999999999996" rx="1.4249999999999998" ry="1.4249999999999998" transform="rotate(0 458.5833333333333 215.4)" fill="#000" fill-opacity="0.31199904604837314" stroke="#000" stroke-width="0.5" stroke-opacity="0.95"/>
<rect x="452.6575" y="214.45000000000002" width="11.685000000000002" height="1.9" rx="0.95" ry="0.95" transform="rotate(0 458.5 215.4)" fill="#000" fill-opacity="0.394" stroke="#000" stroke-width="0.5" stroke-opacity="1.0"/>
<ellipse cx="477.8" cy="207.5" rx="9.8" ry="6.0" transform="rotate(-42 477.8 207.5)" fill="none" fill-opacity="1" stroke="#222" stroke-width="0.55" stroke-opacity="0.9"/>
<ellipse cx="478.5" cy="208.0" rx="7.8" ry="4.6" transform="rotate(-38 478.5 208.0)" fill="#000" fill-opacity="0.03" stroke="#000" stroke-width="0.5" stroke-opacity="0.7"/>
<ellipse cx="478.5" cy="208.0" rx="6.708" ry="3.9559999999999995" transform="rotate(-38 478.5 208.0)" fill="#000" fill-opacity="0.08463177833159838" stroke="#000" stroke-width="0.5" stroke-opacity="0.76"/>
<ellipse cx="478.5" cy="208.0" rx="5.616" ry="3.312" transform="rotate(-38 478.5 208.0)" fill="#000" fill-opacity="0.17417412737627047" stroke="#000" stroke-width="0.5" stroke-opacity="0.82"/>
<ellipse cx="478.5" cy="208.0" rx="4.524" ry="2.668" transform="rotate(-38 478.5 208.0)" fill="#000" fill-opacity="0.2843402501970479" stroke="#000" stroke-width="0.5" stroke-opacity="0.8799999999999999"/>
<ellipse cx="478.5" cy="208.0" rx="3.4320000000000004" ry="2.024" transform="rotate(-38 478.5 208.0)" fill="#000" fill-opacity="0.41047780320353555" stroke="#000" stroke-width="0.5" stroke-opacity="0.94"/>
<ellipse cx="478.5" cy="208.0" rx="2.3400000000000003" ry="1.3800000000000001" transform="rotate(-38 478.5 208.0)" fill="#000" fill-opacity="0.55" stroke="#000" stroke-width="0.5" stroke-opacity="1.0"/>
<ellipse cx="479.4" cy="190.0" rx="1.8" ry="2.6" transform="rotate(0 479.4 190.0)" fill="none" fill-opacity="1" stroke="#222" stroke-width="0.55" stroke-opacity="0.9"/>
<line x1="469.0" y1="166.9" x2="469.0" y2="225.1" stroke="#3a76ad" stroke-width="1.0" />
<line x1="441.9" y1="210.9" x2="499.9" y2="210.9" stroke="#3a76ad" stroke-width="1.0" />
<line x1="441.2" y1="171.33333333333334" x2="442.59999999999997" y2="171.33333333333334" stroke="#333" stroke-width="0.5" />
<line x1="441.2" y1="176.26666666666668" x2="442.59999999999997" y2="176.26666666666668" stroke="#333" stroke-width="0.5" />
<line x1="441.2" y1="181.2" x2="442.59999999999997" y2="181.2" stroke="#333" stroke-width="0.5" />
<line x1="441.2" y1="186.13333333333333" x2="442.59999999999997" y2="186.13333333333333" stroke="#333" stroke-width="0.5" />
<line x1="441.2" y1="191.06666666666666" x2="442.59999999999997" y2="191.06666666666666" stroke="#333" stroke-width="0.5" />
<line x1="441.2" y1="196.0" x2="442.59999999999997" y2="196.0" stroke="#333" stroke-width="0.5" />
<line x1="441.2" y1="200.93333333333334" x2="442.59999999999997" y2="200.93333333333334" stroke="#333" stroke-width="0.5" />
<line x1="441.2" y1="205.86666666666667" x2="442.59999999999997" y2="205.86666666666667" stroke="#333" stroke-width="0.5" />
<line x1="441.2" y1="210.8" x2="442.59999999999997" y2="210.8" stroke="#333" stroke-width="0.5" />
<line x1="441.2" y1="215.73333333333332" x2="442.59999999999997" y2="215.73333333333332" stroke="#333" stroke-width="0.5" />
<line x1="441.2" y1="220.66666666666666" x2="442.59999999999997" y2="220.66666666666666" stroke="#333" stroke-width="0.5" />
<line x1="446.31666666666666" y1="224.4" x2="446.31666666666666" y2="225.79999999999998" stroke="#333" stroke-width="0.5" />
<line x1="451.2333333333333" y1="224.4" x2="451.2333333333333" y2="225.79999999999998" stroke="#333" stroke-width="0.5" />
<line x1="456.15" y1="224.4" x2="456.15" y2="225.79999999999998" stroke="#333" stroke-width="0.5" />
<line x1="461.06666666666666" y1="224.4" x2="461.06666666666666" y2="225.79999999999998" stroke="#333" stroke-width="0.5" />
<line x1="465.9833333333333" y1="224.4" x2="465.9833333333333" y2="225.79999999999998" stroke="#333" stroke-width="0.5" />
<line x1="470.9" y1="224.4" x2="470.9" y2="225.79999999999998" stroke="#333" stroke-width="0.5" />
<line x1="475.81666666666666" y1="224.4" x2="475.81666666666666" y2="225.79999999999998" stroke="#333" stroke-width="0.5" />
<line x1="480.7333333333333" y1="224.4" x2="480.7333333333333" y2="225.79999999999998" stroke="#333" stroke-width="0.5" />
<line x1="485.65" y1="224.4" x2="485.65" y2="225.79999999999998" stroke="#333" stroke-width="0.5" />
<line x1="490.56666666666666" y1="224.4" x2="490.56666666666666" y2="225.79999999999998" stroke="#333" stroke-width="0.5" />
<line x1="495.4833333333333" y1="224.4" x2="495.4833333333333" y2="225.79999999999998" stroke="#333" stroke-width="0.5" />
<text x="443.0" y="172.3" font-size="6.2" text-anchor="start" fill="#2d6aa3" stroke="#2d6aa3" font-weight="normal" >1.81</text>
<text x="499.4" y="172.3" font-size="6.2" text-anchor="end" fill="#2d6aa3" stroke="#2d6aa3" font-weight="normal" >22.9</text>
<text x="443.0" y="224.0" font-size="6.2" text-anchor="start" fill="#2d6aa3" stroke="#2d6aa3" font-weight="normal" >61.8</text>
<text x="499.4" y="224.0" font-size="6.2" text-anchor="end" fill="#2d6aa3" stroke="#2d6aa3" font-weight="normal" >13.5</text>
<rect x="380.2" y="227.6" width="59.0" height="59.099999999999994" fill="#fff" stroke="#505050" stroke-width="0.9"/>
<ellipse cx="402.5" cy="274.5" rx="10.0" ry="4.2" transform="rotate(-20 402.5 274.5)" fill="#000" fill-opacity="0.03" stroke="#000" stroke-width="0.5" stroke-opacity="0.7"/>
<ellipse cx="402.3333333333333" cy="274.55" rx="8.75" ry="3.6750000000000003" transform="rotate(-20 402.3333333333333 274.55)" fill="#000" fill-opacity="0.061743357225488155" stroke="#000" stroke-width="0.5" stroke-opacity="0.75"/>
<ellipse cx="402.1666666666667" cy="274.6" rx="7.5" ry="3.1500000000000004" transform="rotate(-20 402.1666666666667 274.6)" fill="#000" fill-opacity="0.11377122194704306" stroke="#000" stroke-width="0.5" stroke-opacity="0.7999999999999999"/>
<ellipse cx="402.0" cy="274.65" rx="6.25" ry="2.625" transform="rotate(-20 402.0 274.65)" fill="#000" fill-opacity="0.17778236523476385" stroke="#000" stroke-width="0.5" stroke-opacity="0.85"/>
<ellipse cx="401.8333333333333" cy="274.7" rx="5.0" ry="2.1" transform="rotate(-20 401.8333333333333 274.7)" fill="#000" fill-opacity="0.25107358010847036" stroke="#000" stroke-width="0.5" stroke-opacity="0.8999999999999999"/>
<ellipse cx="401.6666666666667" cy="274.75" rx="3.75" ry="1.5750000000000002" transform="rotate(-20 401.6666666666667 274.75)" fill="#000" fill-opacity="0.33214183505182837" stroke="#000" stroke-width="0.5" stroke-opacity="0.95"/>
<ellipse cx="401.5" cy="274.8" rx="2.5" ry="1.05" transform="rotate(-20 401.5 274.8)" fill="#000" fill-opacity="0.42000000000000004" stroke="#000" stroke-width="0.5" stroke-opacity="1.0"/>
<ellipse cx="415.0" cy="266.0" rx="10.5" ry="5.6" transform="rotate(-52 415.0 266.0)" fill="#000" fill-opacity="0.03" stroke="#000" stroke-width="0.5" stroke-opacity="0.7"/>
<ellipse cx="415.07142857142856" cy="266.07142857142856" rx="9.375" ry="5.0" transform="rotate(-52 415.07142857142856 266.07142857142856)" fill="#000" fill-opacity="0.06410877228270082" stroke="#000" stroke-width="0.5" stroke-opacity="0.7428571428571428"/>
<ellipse cx="415.14285714285717" cy="266.14285714285717" rx="8.25" ry="4.3999999999999995" transform="rotate(-52 415.14285714285717 266.14285714285717)" fill="#000" fill-opacity="0.12001358970754993" stroke="#000" stroke-width="0.5" stroke-opacity="0.7857142857142857"/>
<ellipse cx="415.2142857142857" cy="266.2142857142857" rx="7.125" ry="3.8" transform="rotate(-52 415.2142857142857 266.2142857142857)" fill="#000" fill-opacity="0.1887946418957885" stroke="#000" stroke-width="0.5" stroke-opacity="0.8285714285714285"/>
<ellipse cx="415.2857142857143" cy="266.2857142857143" rx="6.0" ry="3.1999999999999997" transform="rotate(-52 415.2857142857143 266.2857142857143)" fill="#000" fill-opacity="0.2675472873923554" stroke="#000" stroke-width="0.5" stroke-opacity="0.8714285714285713"/>
<ellipse cx="415.35714285714283" cy="266.35714285714283" rx="4.875" ry="2.6" transform="rotate(-52 415.35714285714283 266.35714285714283)" fill="#000" fill-opacity="0.35465649350363204" stroke="#000" stroke-width="0.5" stroke-opacity="0.9142857142857143"/>
<ellipse cx="415.42857142857144" cy="266.42857142857144" rx="3.750000000000001" ry="2.0000000000000004" transform="rotate(-52 415.42857142857144 266.42857142857144)" fill="#000" fill-opacity="0.4490615723396836" stroke="#000" stroke-width="0.5" stroke-opacity="0.9571428571428571"/>
<ellipse cx="415.5" cy="266.5" rx="2.625" ry="1.4" transform="rotate(-52 415.5 266.5)" fill="#000" fill-opacity="0.55" stroke="#000" stroke-width="0.5" stroke-opacity="1.0"/>
<ellipse cx="414.0" cy="251.8" rx="6.3" ry="5.6" transform="rotate(0 414.0 251.8)" fill="none" fill-opacity="1" stroke="#222" stroke-width="0.55" stroke-opacity="0.9"/>
<ellipse cx="413.2" cy="252.2" rx="3.0" ry="2.6" transform="rotate(0 413.2 252.2)" fill="none" fill-opacity="1" stroke="#222" stroke-width="0.55" stroke-opacity="0.9"/>
<ellipse cx="401.0" cy="246.0" rx="2.0" ry="1.3" transform="rotate(0 401.0 246.0)" fill="none" fill-opacity="1" stroke="#222" stroke-width="0.55" stroke-opacity="0.9"/>
<line x1="407.6" y1="228.1" x2="407.6" y2="286.2" stroke="#3a76ad" stroke-width="1.0" />
<line x1="380.7" y1="272.4" x2="438.7" y2="272.4" stroke="#3a76ad" stroke-width="1.0" />
<line x1="380.0" y1="232.525" x2="381.4" y2="232.525" stroke="#333" stroke-width="0.5" />
<line x1="380.0" y1="237.45" x2="381.4" y2="237.45" stroke="#333" stroke-width="0.5" />
<line x1="380.0" y1="242.375" x2="381.4" y2="242.375" stroke="#333" stroke-width="0.5" />
<line x1="380.0" y1="247.29999999999998" x2="381.4" y2="247.29999999999998" stroke="#333" stroke-width="0.5" />
<line x1="380.0" y1="252.225" x2="381.4" y2="252.225" stroke="#333" stroke-width="0.5" />
<line x1="380.0" y1="257.15" x2="381.4" y2="257.15" stroke="#333" stroke-width="0.5" />
<line x1="380.0" y1="262.075" x2="381.4" y2="262.075" stroke="#333" stroke-width="0.5" />
<line x1="380.0" y1="267.0" x2="381.4" y2="267.0" stroke="#333" stroke-width="0.5" />
<line x1="380.0" y1="271.925" x2="381.4" y2="271.925" stroke="#333" stroke-width="0.5" />
<line x1="380.0" y1="276.85" x2="381.4" y2="276.85" stroke="#333" stroke-width="0.5" />
<line x1="380.0" y1="281.775" x2="381.4" y2="281.775" stroke="#333" stroke-width="0.5" />
<line x1="385.1166666666667" y1="285.5" x2="385.1166666666667" y2="286.9" stroke="#333" stroke-width="0.5" />
<line x1="390.0333333333333" y1="285.5" x2="390.0333333333333" y2="286.9" stroke="#333" stroke-width="0.5" />
<line x1="394.95" y1="285.5" x2="394.95" y2="286.9" stroke="#333" stroke-width="0.5" />
<line x1="399.8666666666667" y1="285.5" x2="399.8666666666667" y2="286.9" stroke="#333" stroke-width="0.5" />
<line x1="404.7833333333333" y1="285.5" x2="404.7833333333333" y2="286.9" stroke="#333" stroke-width="0.5" />
<line x1="409.7" y1="285.5" x2="409.7" y2="286.9" stroke="#333" stroke-width="0.5" />
<line x1="414.6166666666667" y1="285.5" x2="414.6166666666667" y2="286.9" stroke="#333" stroke-width="0.5" />
<line x1="419.5333333333333" y1="285.5" x2="419.5333333333333" y2="286.9" stroke="#333" stroke-width="0.5" />
<line x1="424.45" y1="285.5" x2="424.45" y2="286.9" stroke="#333" stroke-width="0.5" />
<line x1="429.3666666666667" y1="285.5" x2="429.3666666666667" y2="286.9" stroke="#333" stroke-width="0.5" />
<line x1="434.2833333333333" y1="285.5" x2="434.2833333333333" y2="286.9" stroke="#333" stroke-width="0.5" />
<text x="381.8" y="233.5" font-size="6.2" text-anchor="start" fill="#2d6aa3" stroke="#2d6aa3" font-weight="normal" >3.34</text>
<text x="438.2" y="233.5" font-size="6.2" text-anchor="end" fill="#2d6aa3" stroke="#2d6aa3" font-weight="normal" >62.3</text>
<text x="381.8" y="285.09999999999997" font-size="6.2" text-anchor="start" fill="#2d6aa3" stroke="#2d6aa3" font-weight="normal" >20.2</text>
<text x="438.2" y="285.09999999999997" font-size="6.2" text-anchor="end" fill="#2d6aa3" stroke="#2d6aa3" font-weight="normal" >14.2</text>
<rect x="441.4" y="227.6" width="59.0" height="59.099999999999994" fill="#fff" stroke="#505050" stroke-width="0.9"/>
<ellipse cx="476.3" cy="270.5" rx="9.0" ry="7.8" transform="rotate(-30 476.3 270.5)" fill="none" fill-opacity="1" stroke="#222" stroke-width="0.55" stroke-opacity="0.9"/>
<ellipse cx="477.6" cy="270.8" rx="6.8" ry="5.2" transform="rotate(-25 477.6 270.8)" fill="#000" fill-opacity="0.03" stroke="#000" stroke-width="0.5" stroke-opacity="0.7"/>
<ellipse cx="477.64285714285717" cy="270.8" rx="6.071428571428571" ry="4.642857142857143" transform="rotate(-25 477.64285714285717 270.8)" fill="#000" fill-opacity="0.06410877228270082" stroke="#000" stroke-width="0.5" stroke-opacity="0.7428571428571428"/>
<ellipse cx="477.6857142857143" cy="270.8" rx="5.3428571428571425" ry="4.085714285714285" transform="rotate(-25 477.6857142857143 270.8)" fill="#000" fill-opacity="0.12001358970754993" stroke="#000" stroke-width="0.5" stroke-opacity="0.7857142857142857"/>
<ellipse cx="477.72857142857146" cy="270.8" rx="4.614285714285715" ry="3.528571428571429" transform="rotate(-25 477.72857142857146 270.8)" fill="#000" fill-opacity="0.1887946418957885" stroke="#000" stroke-width="0.5" stroke-opacity="0.8285714285714285"/>
<ellipse cx="477.7714285714286" cy="270.8" rx="3.8857142857142852" ry="2.9714285714285715" transform="rotate(-25 477.7714285714286 270.8)" fill="#000" fill-opacity="0.2675472873923554" stroke="#000" stroke-width="0.5" stroke-opacity="0.8714285714285713"/>
<ellipse cx="477.81428571428575" cy="270.8" rx="3.157142857142857" ry="2.4142857142857146" transform="rotate(-25 477.81428571428575 270.8)" fill="#000" fill-opacity="0.35465649350363204" stroke="#000" stroke-width="0.5" stroke-opacity="0.9142857142857143"/>
<ellipse cx="477.8571428571429" cy="270.8" rx="2.428571428571429" ry="1.8571428571428574" transform="rotate(-25 477.8571428571429 270.8)" fill="#000" fill-opacity="0.4490615723396836" stroke="#000" stroke-width="0.5" stroke-opacity="0.9571428571428571"/>
<ellipse cx="477.90000000000003" cy="270.8" rx="1.7" ry="1.3" transform="rotate(-25 477.90000000000003 270.8)" fill="#000" fill-opacity="0.55" stroke="#000" stroke-width="0.5" stroke-opacity="1.0"/>
<line x1="469.0" y1="228.1" x2="469.0" y2="286.2" stroke="#3a76ad" stroke-width="1.0" />
<line x1="441.9" y1="272.4" x2="499.9" y2="272.4" stroke="#3a76ad" stroke-width="1.0" />
<line x1="441.2" y1="232.525" x2="442.59999999999997" y2="232.525" stroke="#333" stroke-width="0.5" />
<line x1="441.2" y1="237.45" x2="442.59999999999997" y2="237.45" stroke="#333" stroke-width="0.5" />
<line x1="441.2" y1="242.375" x2="442.59999999999997" y2="242.375" stroke="#333" stroke-width="0.5" />
<line x1="441.2" y1="247.29999999999998" x2="442.59999999999997" y2="247.29999999999998" stroke="#333" stroke-width="0.5" />
<line x1="441.2" y1="252.225" x2="442.59999999999997" y2="252.225" stroke="#333" stroke-width="0.5" />
<line x1="441.2" y1="257.15" x2="442.59999999999997" y2="257.15" stroke="#333" stroke-width="0.5" />
<line x1="441.2" y1="262.075" x2="442.59999999999997" y2="262.075" stroke="#333" stroke-width="0.5" />
<line x1="441.2" y1="267.0" x2="442.59999999999997" y2="267.0" stroke="#333" stroke-width="0.5" />
<line x1="441.2" y1="271.925" x2="442.59999999999997" y2="271.925" stroke="#333" stroke-width="0.5" />
<line x1="441.2" y1="276.85" x2="442.59999999999997" y2="276.85" stroke="#333" stroke-width="0.5" />
<line x1="441.2" y1="281.775" x2="442.59999999999997" y2="281.775" stroke="#333" stroke-width="0.5" />
<line x1="446.31666666666666" y1="285.5" x2="446.31666666666666" y2="286.9" stroke="#333" stroke-width="0.5" />
<line x1="451.2333333333333" y1="285.5" x2="451.2333333333333" y2="286.9" stroke="#333" stroke-width="0.5" />
<line x1="456.15" y1="285.5" x2="456.15" y2="286.9" stroke="#333" stroke-width="0.5" />
<line x1="461.06666666666666" y1="285.5" x2="461.06666666666666" y2="286.9" stroke="#333" stroke-width="0.5" />
<line x1="465.9833333333333" y1="285.5" x2="465.9833333333333" y2="286.9" stroke="#333" stroke-width="0.5" />
<line x1="470.9" y1="285.5" x2="470.9" y2="286.9" stroke="#333" stroke-width="0.5" />
<line x1="475.81666666666666" y1="285.5" x2="475.81666666666666" y2="286.9" stroke="#333" stroke-width="0.5" />
<line x1="480.7333333333333" y1="285.5" x2="480.7333333333333" y2="286.9" stroke="#333" stroke-width="0.5" />
<line x1="485.65" y1="285.5" x2="485.65" y2="286.9" stroke="#333" stroke-width="0.5" />
<line x1="490.56666666666666" y1="285.5" x2="490.56666666666666" y2="286.9" stroke="#333" stroke-width="0.5" />
<line x1="495.4833333333333" y1="285.5" x2="495.4833333333333" y2="286.9" stroke="#333" stroke-width="0.5" />
<text x="443.0" y="233.5" font-size="6.2" text-anchor="start" fill="#2d6aa3" stroke="#2d6aa3" font-weight="normal" >0.999</text>
<text x="499.4" y="233.5" font-size="6.2" text-anchor="end" fill="#2d6aa3" stroke="#2d6aa3" font-weight="normal" >62.1</text>
<text x="443.0" y="285.09999999999997" font-size="6.2" text-anchor="start" fill="#2d6aa3" stroke="#2d6aa3" font-weight="normal" >2.7</text>
<text x="499.4" y="285.09999999999997" font-size="6.2" text-anchor="end" fill="#2d6aa3" stroke="#2d6aa3" font-weight="normal" >34.2</text>
<rect x="380.2" y="288.8" width="59.0" height="58.69999999999999" fill="#fff" stroke="#505050" stroke-width="0.9"/>
<ellipse cx="415.0" cy="331.0" rx="9.2" ry="6.6" transform="rotate(-30 415.0 331.0)" fill="none" fill-opacity="1" stroke="#222" stroke-width="0.55" stroke-opacity="0.9"/>
<ellipse cx="415.6" cy="331.4" rx="6.8" ry="4.6" transform="rotate(-30 415.6 331.4)" fill="#000" fill-opacity="0.03" stroke="#000" stroke-width="0.5" stroke-opacity="0.7"/>
<ellipse cx="415.6" cy="331.4" rx="5.95" ry="4.0249999999999995" transform="rotate(-30 415.6 331.4)" fill="#000" fill-opacity="0.07232447630065086" stroke="#000" stroke-width="0.5" stroke-opacity="0.75"/>
<ellipse cx="415.6" cy="331.4" rx="5.1" ry="3.4499999999999997" transform="rotate(-30 415.6 331.4)" fill="#000" fill-opacity="0.1416949625960574" stroke="#000" stroke-width="0.5" stroke-opacity="0.7999999999999999"/>
<ellipse cx="415.6" cy="331.4" rx="4.25" ry="2.875" transform="rotate(-30 415.6 331.4)" fill="#000" fill-opacity="0.22704315364635178" stroke="#000" stroke-width="0.5" stroke-opacity="0.85"/>
<ellipse cx="415.6" cy="331.4" rx="3.4" ry="2.3" transform="rotate(-30 415.6 331.4)" fill="#000" fill-opacity="0.3247647734779605" stroke="#000" stroke-width="0.5" stroke-opacity="0.8999999999999999"/>
<ellipse cx="415.6" cy="331.4" rx="2.55" ry="1.7249999999999999" transform="rotate(-30 415.6 331.4)" fill="#000" fill-opacity="0.4328557800691044" stroke="#000" stroke-width="0.5" stroke-opacity="0.95"/>
<ellipse cx="415.6" cy="331.4" rx="1.7" ry="1.15" transform="rotate(-30 415.6 331.4)" fill="#000" fill-opacity="0.55" stroke="#000" stroke-width="0.5" stroke-opacity="1.0"/>
<line x1="407.6" y1="289.3" x2="407.6" y2="347.0" stroke="#3a76ad" stroke-width="1.0" />
<line x1="380.7" y1="333.7" x2="438.7" y2="333.7" stroke="#3a76ad" stroke-width="1.0" />
<line x1="380.0" y1="293.69166666666666" x2="381.4" y2="293.69166666666666" stroke="#333" stroke-width="0.5" />
<line x1="380.0" y1="298.58333333333337" x2="381.4" y2="298.58333333333337" stroke="#333" stroke-width="0.5" />
<line x1="380.0" y1="303.475" x2="381.4" y2="303.475" stroke="#333" stroke-width="0.5" />
<line x1="380.0" y1="308.3666666666667" x2="381.4" y2="308.3666666666667" stroke="#333" stroke-width="0.5" />
<line x1="380.0" y1="313.2583333333333" x2="381.4" y2="313.2583333333333" stroke="#333" stroke-width="0.5" />
<line x1="380.0" y1="318.15" x2="381.4" y2="318.15" stroke="#333" stroke-width="0.5" />
<line x1="380.0" y1="323.0416666666667" x2="381.4" y2="323.0416666666667" stroke="#333" stroke-width="0.5" />
<line x1="380.0" y1="327.93333333333334" x2="381.4" y2="327.93333333333334" stroke="#333" stroke-width="0.5" />
<line x1="380.0" y1="332.825" x2="381.4" y2="332.825" stroke="#333" stroke-width="0.5" />
<line x1="380.0" y1="337.7166666666667" x2="381.4" y2="337.7166666666667" stroke="#333" stroke-width="0.5" />
<line x1="380.0" y1="342.60833333333335" x2="381.4" y2="342.60833333333335" stroke="#333" stroke-width="0.5" />
<line x1="385.1166666666667" y1="346.3" x2="385.1166666666667" y2="347.7" stroke="#333" stroke-width="0.5" />
<line x1="390.0333333333333" y1="346.3" x2="390.0333333333333" y2="347.7" stroke="#333" stroke-width="0.5" />
<line x1="394.95" y1="346.3" x2="394.95" y2="347.7" stroke="#333" stroke-width="0.5" />
<line x1="399.8666666666667" y1="346.3" x2="399.8666666666667" y2="347.7" stroke="#333" stroke-width="0.5" />
<line x1="404.7833333333333" y1="346.3" x2="404.7833333333333" y2="347.7" stroke="#333" stroke-width="0.5" />
<line x1="409.7" y1="346.3" x2="409.7" y2="347.7" stroke="#333" stroke-width="0.5" />
<line x1="414.6166666666667" y1="346.3" x2="414.6166666666667" y2="347.7" stroke="#333" stroke-width="0.5" />
<line x1="419.5333333333333" y1="346.3" x2="419.5333333333333" y2="347.7" stroke="#333" stroke-width="0.5" />
<line x1="424.45" y1="346.3" x2="424.45" y2="347.7" stroke="#333" stroke-width="0.5" />
<line x1="429.3666666666667" y1="346.3" x2="429.3666666666667" y2="347.7" stroke="#333" stroke-width="0.5" />
<line x1="434.2833333333333" y1="346.3" x2="434.2833333333333" y2="347.7" stroke="#333" stroke-width="0.5" />
<text x="381.8" y="294.7" font-size="6.2" text-anchor="start" fill="#2d6aa3" stroke="#2d6aa3" font-weight="normal" >0.873</text>
<text x="438.2" y="294.7" font-size="6.2" text-anchor="end" fill="#2d6aa3" stroke="#2d6aa3" font-weight="normal" >71.4</text>
<text x="381.8" y="345.9" font-size="6.2" text-anchor="start" fill="#2d6aa3" stroke="#2d6aa3" font-weight="normal" >1.38</text>
<text x="438.2" y="345.9" font-size="6.2" text-anchor="end" fill="#2d6aa3" stroke="#2d6aa3" font-weight="normal" >26.4</text>
<rect x="441.4" y="288.8" width="59.0" height="58.69999999999999" fill="#fff" stroke="#505050" stroke-width="0.9"/>
<ellipse cx="476.5" cy="332.0" rx="8.6" ry="6.0" transform="rotate(-25 476.5 332.0)" fill="none" fill-opacity="1" stroke="#222" stroke-width="0.55" stroke-opacity="0.9"/>
<ellipse cx="477.0" cy="332.2" rx="6.8" ry="4.5" transform="rotate(-25 477.0 332.2)" fill="#000" fill-opacity="0.03" stroke="#000" stroke-width="0.5" stroke-opacity="0.7"/>
<ellipse cx="477.0" cy="332.2" rx="5.95" ry="3.9375" transform="rotate(-25 477.0 332.2)" fill="#000" fill-opacity="0.07232447630065086" stroke="#000" stroke-width="0.5" stroke-opacity="0.75"/>
<ellipse cx="477.0" cy="332.2" rx="5.1" ry="3.375" transform="rotate(-25 477.0 332.2)" fill="#000" fill-opacity="0.1416949625960574" stroke="#000" stroke-width="0.5" stroke-opacity="0.7999999999999999"/>
<ellipse cx="477.0" cy="332.2" rx="4.25" ry="2.8125" transform="rotate(-25 477.0 332.2)" fill="#000" fill-opacity="0.22704315364635178" stroke="#000" stroke-width="0.5" stroke-opacity="0.85"/>
<ellipse cx="477.0" cy="332.2" rx="3.4" ry="2.25" transform="rotate(-25 477.0 332.2)" fill="#000" fill-opacity="0.3247647734779605" stroke="#000" stroke-width="0.5" stroke-opacity="0.8999999999999999"/>
<ellipse cx="477.0" cy="332.2" rx="2.55" ry="1.6875" transform="rotate(-25 477.0 332.2)" fill="#000" fill-opacity="0.4328557800691044" stroke="#000" stroke-width="0.5" stroke-opacity="0.95"/>
<ellipse cx="477.0" cy="332.2" rx="1.7" ry="1.125" transform="rotate(-25 477.0 332.2)" fill="#000" fill-opacity="0.55" stroke="#000" stroke-width="0.5" stroke-opacity="1.0"/>
<line x1="469.0" y1="289.3" x2="469.0" y2="347.0" stroke="#3a76ad" stroke-width="1.0" />
<line x1="441.9" y1="333.7" x2="499.9" y2="333.7" stroke="#3a76ad" stroke-width="1.0" />
<line x1="441.2" y1="293.69166666666666" x2="442.59999999999997" y2="293.69166666666666" stroke="#333" stroke-width="0.5" />
<line x1="441.2" y1="298.58333333333337" x2="442.59999999999997" y2="298.58333333333337" stroke="#333" stroke-width="0.5" />
<line x1="441.2" y1="303.475" x2="442.59999999999997" y2="303.475" stroke="#333" stroke-width="0.5" />
<line x1="441.2" y1="308.3666666666667" x2="442.59999999999997" y2="308.3666666666667" stroke="#333" stroke-width="0.5" />
<line x1="441.2" y1="313.2583333333333" x2="442.59999999999997" y2="313.2583333333333" stroke="#333" stroke-width="0.5" />
<line x1="441.2" y1="318.15" x2="442.59999999999997" y2="318.15" stroke="#333" stroke-width="0.5" />
<line x1="441.2" y1="323.0416666666667" x2="442.59999999999997" y2="323.0416666666667" stroke="#333" stroke-width="0.5" />
<line x1="441.2" y1="327.93333333333334" x2="442.59999999999997" y2="327.93333333333334" stroke="#333" stroke-width="0.5" />
<line x1="441.2" y1="332.825" x2="442.59999999999997" y2="332.825" stroke="#333" stroke-width="0.5" />
<line x1="441.2" y1="337.7166666666667" x2="442.59999999999997" y2="337.7166666666667" stroke="#333" stroke-width="0.5" />
<line x1="441.2" y1="342.60833333333335" x2="442.59999999999997" y2="342.60833333333335" stroke="#333" stroke-width="0.5" />
<line x1="446.31666666666666" y1="346.3" x2="446.31666666666666" y2="347.7" stroke="#333" stroke-width="0.5" />
<line x1="451.2333333333333" y1="346.3" x2="451.2333333333333" y2="347.7" stroke="#333" stroke-width="0.5" />
<line x1="456.15" y1="346.3" x2="456.15" y2="347.7" stroke="#333" stroke-width="0.5" />
<line x1="461.06666666666666" y1="346.3" x2="461.06666666666666" y2="347.7" stroke="#333" stroke-width="0.5" />
<line x1="465.9833333333333" y1="346.3" x2="465.9833333333333" y2="347.7" stroke="#333" stroke-width="0.5" />
<line x1="470.9" y1="346.3" x2="470.9" y2="347.7" stroke="#333" stroke-width="0.5" />
<line x1="475.81666666666666" y1="346.3" x2="475.81666666666666" y2="347.7" stroke="#333" stroke-width="0.5" />
<line x1="480.7333333333333" y1="346.3" x2="480.7333333333333" y2="347.7" stroke="#333" stroke-width="0.5" />
<line x1="485.65" y1="346.3" x2="485.65" y2="347.7" stroke="#333" stroke-width="0.5" />
<line x1="490.56666666666666" y1="346.3" x2="490.56666666666666" y2="347.7" stroke="#333" stroke-width="0.5" />
<line x1="495.4833333333333" y1="346.3" x2="495.4833333333333" y2="347.7" stroke="#333" stroke-width="0.5" />
<text x="443.0" y="294.7" font-size="6.2" text-anchor="start" fill="#2d6aa3" stroke="#2d6aa3" font-weight="normal" >0.531</text>
<text x="499.4" y="294.7" font-size="6.2" text-anchor="end" fill="#2d6aa3" stroke="#2d6aa3" font-weight="normal" >52</text>
<text x="443.0" y="345.9" font-size="6.2" text-anchor="start" fill="#2d6aa3" stroke="#2d6aa3" font-weight="normal" >1.59</text>
<text x="499.4" y="345.9" font-size="6.2" text-anchor="end" fill="#2d6aa3" stroke="#2d6aa3" font-weight="normal" >45.8</text>
<defs><filter id="bl" x="-30%" y="-100%" width="160%" height="300%"><feGaussianBlur stdDeviation="0.55"/></filter></defs>
<text x="7.5" y="405.8" font-size="11" text-anchor="start" fill="#000" stroke="#000" font-weight="bold" >E</text>
<text x="107.9" y="406.2" font-size="7.5" text-anchor="middle" fill="#231f20" stroke="#231f20" font-weight="normal" >Ba/F3</text>
<text x="107.8" y="415.7" font-size="7.5" text-anchor="middle" fill="#231f20" stroke="#231f20" font-weight="normal" >MPLmu_S</text>
<line x1="89.2" y1="419.2" x2="127.1" y2="418.6" stroke="#231f20" stroke-width="1.0" />
<text x="153.0" y="406.2" font-size="7.5" text-anchor="middle" fill="#231f20" stroke="#231f20" font-weight="normal" >Ba/F3</text>
<text x="153.1" y="415.7" font-size="7.5" text-anchor="middle" fill="#231f20" stroke="#231f20" font-weight="normal" >MPLmu_R</text>
<line x1="132.9" y1="418.9" x2="173.9" y2="418.3" stroke="#231f20" stroke-width="1.0" />
<g transform="translate(81.4,427.0) scale(0.95,1)"><text x="0" y="0" font-size="7.6" text-anchor="end" fill="#231f20" stroke="#231f20" style="stroke-width:0.14;letter-spacing:0px">Ruxolitinib</text></g>
<line x1="94.7" y1="428.2" x2="97.89999999999999" y2="428.2" stroke="#231f20" stroke-width="0.9" />
<line x1="136.1" y1="428.2" x2="139.29999999999998" y2="428.2" stroke="#231f20" stroke-width="0.9" />
<text x="117.5" y="430.8" font-size="7.6" text-anchor="middle" fill="#231f20" stroke="#231f20" font-weight="normal" >+</text>
<text x="160.8" y="430.8" font-size="7.6" text-anchor="middle" fill="#231f20" stroke="#231f20" font-weight="normal" >+</text>
<text x="81.5" y="445.6" font-size="7.6" text-anchor="end" fill="#231f20" stroke="#231f20" font-weight="normal" >p-Stat5</text>
<text x="81.8" y="471.8" font-size="7.7" text-anchor="end" fill="#231f20" stroke="#231f20" font-weight="normal" >Stat5</text>
<text x="81.8" y="499.4" font-size="7.5" text-anchor="end" fill="#231f20" stroke="#231f20" font-weight="normal" >b-actin</text>
<rect x="84.8" y="434.4" width="89.39999999999999" height="17.900000000000034" fill="#f7f7f7"/>
<svg x="84.8" y="434.4" width="89.39999999999999" height="17.900000000000034" viewBox="84.8 434.4 89.39999999999999 17.900000000000034" overflow="hidden"><g filter="url(#bl)">
<path d="M87.0,441.33500000000004 Q87.0,440.3 89.0,440.3 L104.5,440.3 Q106.5,440.3 106.5,441.33500000000004 L106.5,443.865 Q106.5,444.90000000000003 104.5,444.90000000000003 L89.0,444.90000000000003 Q87.0,444.90000000000003 87.0,443.865 Z" fill="#000" fill-opacity="1.0"/>
<path d="M109.0,442.64 Q109.0,442.1 111.0,442.1 L126.0,442.1 Q128.0,442.1 128.0,442.64 L128.0,443.96000000000004 Q128.0,444.5 126.0,444.5 L111.0,444.5 Q109.0,444.5 109.0,443.96000000000004 Z" fill="#000" fill-opacity="0.25"/>
<path d="M130.5,441.12 Q130.5,440.4 132.5,440.4 L147.0,440.4 Q149.0,440.4 149.0,441.12 L149.0,442.88 Q149.0,443.6 147.0,443.6 L132.5,443.6 Q130.5,443.6 130.5,442.88 Z" fill="#000" fill-opacity="0.85"/>
<path d="M140.0,440.955 Q140.0,440.1 142.0,440.1 L147.0,440.1 Q149.0,440.1 149.0,440.955 L149.0,443.045 Q149.0,443.9 147.0,443.9 L142.0,443.9 Q140.0,443.9 140.0,443.045 Z" fill="#000" fill-opacity="0.6"/>
<path d="M152.0,441.71999999999997 Q152.0,440.99999999999994 154.0,440.99999999999994 L169.0,440.59999999999997 Q171.0,440.59999999999997 171.0,441.32 L171.0,443.08 Q171.0,443.8 169.0,443.8 L154.0,444.2 Q152.0,444.2 152.0,443.47999999999996 Z" fill="#000" fill-opacity="0.8"/>
<path d="M162.0,440.955 Q162.0,440.1 164.0,440.1 L169.0,440.1 Q171.0,440.1 171.0,440.955 L171.0,443.045 Q171.0,443.9 169.0,443.9 L164.0,443.9 Q162.0,443.9 162.0,443.045 Z" fill="#000" fill-opacity="0.6"/>
</g></svg>
<rect x="84.8" y="434.4" width="89.39999999999999" height="17.900000000000034" fill="none" stroke="#111" stroke-width="1.4"/>
<rect x="85.2" y="460.2" width="88.60000000000001" height="18.100000000000023" fill="#f7f7f7"/>
<svg x="85.2" y="460.2" width="88.60000000000001" height="18.100000000000023" viewBox="85.2 460.2 88.60000000000001 18.100000000000023" overflow="hidden"><g filter="url(#bl)">
<path d="M88.0,468.375 Q88.0,467.7 90.0,467.7 L105.0,466.90000000000003 Q107.0,466.90000000000003 107.0,467.57500000000005 L107.0,469.225 Q107.0,469.90000000000003 105.0,469.90000000000003 L90.0,470.7 Q88.0,470.7 88.0,470.025 Z" fill="#000" fill-opacity="0.7"/>
<path d="M99.0,466.59000000000003 Q99.0,465.6 101.0,465.6 L105.5,465.6 Q107.5,465.6 107.5,466.59000000000003 L107.5,469.01 Q107.5,470.0 105.5,470.0 L101.0,470.0 Q99.0,470.0 99.0,469.01 Z" fill="#000" fill-opacity="1.0"/>
<path d="M110.0,466.675 Q110.0,466.0 112.0,466.0 L127.0,466.0 Q129.0,466.0 129.0,466.675 L129.0,468.325 Q129.0,469.0 127.0,469.0 L112.0,469.0 Q110.0,469.0 110.0,468.325 Z" fill="#000" fill-opacity="0.95"/>
<path d="M110.0,470.175 Q110.0,469.5 112.0,469.5 L127.0,469.5 Q129.0,469.5 129.0,470.175 L129.0,471.825 Q129.0,472.5 127.0,472.5 L112.0,472.5 Q110.0,472.5 110.0,471.825 Z" fill="#000" fill-opacity="0.9"/>
<path d="M131.0,468.07 Q131.0,466.9 133.0,466.9 L148.0,466.9 Q150.0,466.9 150.0,468.07 L150.0,470.93 Q150.0,472.1 148.0,472.1 L133.0,472.1 Q131.0,472.1 131.0,470.93 Z" fill="#000" fill-opacity="1.0"/>
<path d="M153.0,469.35499999999996 Q153.0,468.5 155.0,468.5 L169.0,468.5 Q171.0,468.5 171.0,469.35499999999996 L171.0,471.445 Q171.0,472.29999999999995 169.0,472.29999999999995 L155.0,472.29999999999995 Q153.0,472.29999999999995 153.0,471.445 Z" fill="#000" fill-opacity="0.85"/>
</g></svg>
<rect x="85.2" y="460.2" width="88.60000000000001" height="18.100000000000023" fill="none" stroke="#111" stroke-width="1.4"/>
<rect x="85.2" y="487.2" width="88.60000000000001" height="18.5" fill="#f7f7f7"/>
<svg x="85.2" y="487.2" width="88.60000000000001" height="18.5" viewBox="85.2 487.2 88.60000000000001 18.5" overflow="hidden"><g filter="url(#bl)">
<path d="M88,489.5 C89,496 93,498 107,498 L107,501.6 C92,502 87,498 87,491 Z" fill="#000"/>
<path d="M110.0,498.255 Q110.0,497.40000000000003 112.0,497.40000000000003 L127.0,497.40000000000003 Q129.0,497.40000000000003 129.0,498.255 L129.0,500.345 Q129.0,501.2 127.0,501.2 L112.0,501.2 Q110.0,501.2 110.0,500.345 Z" fill="#000" fill-opacity="1.0"/>
<path d="M131.0,497.9 Q131.0,497.0 133.0,497.0 L148.0,497.0 Q150.0,497.0 150.0,497.9 L150.0,500.1 Q150.0,501.0 148.0,501.0 L133.0,501.0 Q131.0,501.0 131.0,500.1 Z" fill="#000" fill-opacity="1.0"/>
<path d="M153.0,498.555 Q153.0,497.70000000000005 155.0,497.70000000000005 L169.0,497.70000000000005 Q171.0,497.70000000000005 171.0,498.555 L171.0,500.64500000000004 Q171.0,501.5 169.0,501.5 L155.0,501.5 Q153.0,501.5 153.0,500.64500000000004 Z" fill="#000" fill-opacity="0.95"/>
</g></svg>
<rect x="85.2" y="487.2" width="88.60000000000001" height="18.5" fill="none" stroke="#111" stroke-width="1.4"/>
<text x="193.5" y="406.2" font-size="11" text-anchor="start" fill="#000" stroke="#000" font-weight="bold" >F</text>
<text x="238.1" y="404.3" font-size="7.3" text-anchor="start" fill="#231f20" stroke="#231f20" font-weight="normal" >Ba/F3 MPLmu_S</text>
<line x1="238.1" y1="405.9" x2="297.4" y2="405.9" stroke="#231f20" stroke-width="0.85" />
<g transform="translate(236.0,418.0) scale(0.95,1)"><text x="0" y="0" font-size="7.6" text-anchor="end" fill="#231f20" stroke="#231f20" style="stroke-width:0.14;letter-spacing:0px">Ruxolitinib</text></g>
<line x1="263.6" y1="415.4" x2="268.0" y2="415.4" stroke="#231f20" stroke-width="0.8" />
<text x="317.7" y="418.3" font-size="7.6" text-anchor="middle" fill="#231f20" stroke="#231f20" font-weight="normal" >+</text>
<line x1="242.7" y1="422.5" x2="290.5" y2="422.5" stroke="#231f20" stroke-width="1.2" />
<line x1="296.9" y1="422.5" x2="341.9" y2="422.5" stroke="#231f20" stroke-width="1.2" />
<g transform="translate(244.5,425.3) rotate(90)"><text x="0" y="0" font-size="7.8" fill="#231f20" stroke="#231f20">DMSO</text></g>
<g transform="translate(263.0,425.3) rotate(90)"><text x="0" y="0" font-size="7.8" fill="#231f20" stroke="#231f20">KN93 10&#956;M</text></g>
<g transform="translate(280.7,425.3) rotate(90)"><text x="0" y="0" font-size="7.8" fill="#231f20" stroke="#231f20">TFP 10&#956;M</text></g>
<g transform="translate(296.4,425.3) rotate(90)"><text x="0" y="0" font-size="7.8" fill="#231f20" stroke="#231f20">DMSO</text></g>
<g transform="translate(314.4,425.3) rotate(90)"><text x="0" y="0" font-size="7.8" fill="#231f20" stroke="#231f20">KN93 10&#956;M</text></g>
<g transform="translate(332.2,425.3) rotate(90)"><text x="0" y="0" font-size="7.8" fill="#231f20" stroke="#231f20">TFP 10&#956;M</text></g>
<text x="236.6" y="481.6" font-size="7.6" text-anchor="end" fill="#231f20" stroke="#231f20" font-weight="normal" >p-Stat5</text>
<rect x="239.8" y="469.3" width="100.09999999999997" height="21.69999999999999" fill="#f7f7f7"/>
<svg x="239.8" y="469.3" width="100.09999999999997" height="21.69999999999999" viewBox="239.8 469.3 100.09999999999997 21.69999999999999" overflow="hidden"><g filter="url(#bl)">
<path d="M243.0,475.82 Q243.0,475.09999999999997 245.0,475.09999999999997 L254.0,475.7 Q256.0,475.7 256.0,476.42 L256.0,478.18 Q256.0,478.90000000000003 254.0,478.90000000000003 L245.0,478.3 Q243.0,478.3 243.0,477.58 Z" fill="#000" fill-opacity="1.0"/>
<path d="M243.0,485.45 Q243.0,485.0 245.0,485.0 L251.0,485.0 Q253.0,485.0 253.0,485.45 L253.0,486.55 Q253.0,487.0 251.0,487.0 L245.0,487.0 Q243.0,487.0 243.0,486.55 Z" fill="#000" fill-opacity="0.5"/>
<path d="M259.0,477.185 Q259.0,476.59999999999997 261.0,476.59999999999997 L269.0,477.2 Q271.0,477.2 271.0,477.785 L271.0,479.215 Q271.0,479.8 269.0,479.8 L261.0,479.2 Q259.0,479.2 259.0,478.61499999999995 Z" fill="#000" fill-opacity="0.75"/>
<path d="M275.0,478.53999999999996 Q275.0,478.0 277.0,478.0 L287.0,478.6 Q289.0,478.6 289.0,479.14 L289.0,480.46000000000004 Q289.0,481.0 287.0,481.0 L277.0,480.4 Q275.0,480.4 275.0,479.86 Z" fill="#000" fill-opacity="0.55"/>
<path d="M291.0,479.43999999999994 Q291.0,478.9 293.0,478.9 L303.0,479.5 Q305.0,479.5 305.0,480.03999999999996 L305.0,481.36 Q305.0,481.9 303.0,481.9 L293.0,481.29999999999995 Q291.0,481.29999999999995 291.0,480.76 Z" fill="#000" fill-opacity="0.5"/>
<path d="M308.0,480.73999999999995 Q308.0,480.2 310.0,480.2 L318.0,480.8 Q320.0,480.8 320.0,481.34 L320.0,482.66 Q320.0,483.2 318.0,483.2 L310.0,482.59999999999997 Q308.0,482.59999999999997 308.0,482.06 Z" fill="#000" fill-opacity="0.5"/>
<path d="M323.0,482.94 Q323.0,482.40000000000003 325.0,482.40000000000003 L335.0,483.2 Q337.0,483.2 337.0,483.73999999999995 L337.0,485.06 Q337.0,485.59999999999997 335.0,485.59999999999997 L325.0,484.8 Q323.0,484.8 323.0,484.26000000000005 Z" fill="#000" fill-opacity="0.65"/>
</g></svg>
<rect x="239.8" y="469.3" width="100.09999999999997" height="21.69999999999999" fill="none" stroke="#111" stroke-width="1.4"/>
<text x="236.6" y="508.6" font-size="7.7" text-anchor="end" fill="#231f20" stroke="#231f20" font-weight="normal" >Stat5</text>
<rect x="239.8" y="495.3" width="100.09999999999997" height="20.19999999999999" fill="#f7f7f7"/>
<svg x="239.8" y="495.3" width="100.09999999999997" height="20.19999999999999" viewBox="239.8 495.3 100.09999999999997 20.19999999999999" overflow="hidden"><g filter="url(#bl)">
<path d="M243.0,499.265 Q243.0,498.5 245.0,498.5 L254.0,498.1 Q256.0,498.1 256.0,498.865 L256.0,500.735 Q256.0,501.5 254.0,501.5 L245.0,501.9 Q243.0,501.9 243.0,501.135 Z" fill="#000" fill-opacity="1.0"/>
<path d="M243.0,507.09499999999997 Q243.0,506.59999999999997 245.0,506.59999999999997 L254.0,506.59999999999997 Q256.0,506.59999999999997 256.0,507.09499999999997 L256.0,508.305 Q256.0,508.8 254.0,508.8 L245.0,508.8 Q243.0,508.8 243.0,508.305 Z" fill="#000" fill-opacity="0.75"/>
<path d="M259.0,500.79 Q259.0,499.8 261.0,499.8 L272.0,499.40000000000003 Q274.0,499.40000000000003 274.0,500.39000000000004 L274.0,502.81 Q274.0,503.8 272.0,503.8 L261.0,504.2 Q259.0,504.2 259.0,503.21 Z" fill="#000" fill-opacity="1.0"/>
<path d="M259.0,508.25 Q259.0,507.8 261.0,507.8 L270.0,507.8 Q272.0,507.8 272.0,508.25 L272.0,509.35 Q272.0,509.8 270.0,509.8 L261.0,509.8 Q259.0,509.8 259.0,509.35 Z" fill="#000" fill-opacity="0.75"/>
<path d="M276.0,503.12 Q276.0,502.4 278.0,502.4 L288.0,502.4 Q290.0,502.4 290.0,503.12 L290.0,504.88 Q290.0,505.6 288.0,505.6 L278.0,505.6 Q276.0,505.6 276.0,504.88 Z" fill="#000" fill-opacity="0.85"/>
<path d="M276.0,506.505 Q276.0,506.1 278.0,506.1 L288.0,506.1 Q290.0,506.1 290.0,506.505 L290.0,507.495 Q290.0,507.9 288.0,507.9 L278.0,507.9 Q276.0,507.9 276.0,507.495 Z" fill="#000" fill-opacity="0.45"/>
<path d="M292.0,504.375 Q292.0,503.7 294.0,503.7 L304.0,503.7 Q306.0,503.7 306.0,504.375 L306.0,506.025 Q306.0,506.7 304.0,506.7 L294.0,506.7 Q292.0,506.7 292.0,506.025 Z" fill="#000" fill-opacity="0.8"/>
<path d="M292.0,507.505 Q292.0,507.1 294.0,507.1 L304.0,507.1 Q306.0,507.1 306.0,507.505 L306.0,508.495 Q306.0,508.9 304.0,508.9 L294.0,508.9 Q292.0,508.9 292.0,508.495 Z" fill="#000" fill-opacity="0.4"/>
<path d="M308.0,504.81 Q308.0,504.0 310.0,504.0 L320.0,504.0 Q322.0,504.0 322.0,504.81 L322.0,506.79 Q322.0,507.6 320.0,507.6 L310.0,507.6 Q308.0,507.6 308.0,506.79 Z" fill="#000" fill-opacity="0.95"/>
<path d="M308.0,508.105 Q308.0,507.70000000000005 310.0,507.70000000000005 L320.0,507.70000000000005 Q322.0,507.70000000000005 322.0,508.105 L322.0,509.095 Q322.0,509.5 320.0,509.5 L310.0,509.5 Q308.0,509.5 308.0,509.095 Z" fill="#000" fill-opacity="0.45"/>
<path d="M324.0,506.09999999999997 Q324.0,505.2 326.0,505.2 L336.0,505.2 Q338.0,505.2 338.0,506.09999999999997 L338.0,508.3 Q338.0,509.2 336.0,509.2 L326.0,509.2 Q324.0,509.2 324.0,508.3 Z" fill="#000" fill-opacity="1.0"/>
<path d="M324.0,503.95 Q324.0,503.5 326.0,503.5 L336.0,503.5 Q338.0,503.5 338.0,503.95 L338.0,505.05 Q338.0,505.5 336.0,505.5 L326.0,505.5 Q324.0,505.5 324.0,505.05 Z" fill="#000" fill-opacity="0.5"/>
</g></svg>
<rect x="239.8" y="495.3" width="100.09999999999997" height="20.19999999999999" fill="none" stroke="#111" stroke-width="1.4"/>
<text x="236.6" y="536.0" font-size="7.5" text-anchor="end" fill="#231f20" stroke="#231f20" font-weight="normal" >b-actin</text>
<rect x="239.8" y="522.7" width="100.09999999999997" height="18.699999999999932" fill="#f7f7f7"/>
<svg x="239.8" y="522.7" width="100.09999999999997" height="18.699999999999932" viewBox="239.8 522.7 100.09999999999997 18.699999999999932" overflow="hidden"><g filter="url(#bl)">
<path d="M243.0,534.59 Q243.0,534.05 245.0,534.05 L254.0,533.55 Q256.0,533.55 256.0,534.09 L256.0,535.41 Q256.0,535.95 254.0,535.95 L245.0,536.45 Q243.0,536.45 243.0,535.91 Z" fill="#000" fill-opacity="0.95"/>
<path d="M259.0,533.43 Q259.0,532.8 261.0,532.8 L271.0,532.0 Q273.0,532.0 273.0,532.63 L273.0,534.17 Q273.0,534.8 271.0,534.8 L261.0,535.5999999999999 Q259.0,535.5999999999999 259.0,534.9699999999999 Z" fill="#000" fill-opacity="1.0"/>
<path d="M276.0,531.935 Q276.0,531.35 278.0,531.35 L287.0,530.85 Q289.0,530.85 289.0,531.435 L289.0,532.865 Q289.0,533.4499999999999 287.0,533.4499999999999 L278.0,533.9499999999999 Q276.0,533.9499999999999 276.0,533.365 Z" fill="#000" fill-opacity="0.95"/>
<path d="M293.0,531.895 Q293.0,531.4 295.0,531.4 L303.0,530.9999999999999 Q305.0,530.9999999999999 305.0,531.4949999999999 L305.0,532.7049999999999 Q305.0,533.1999999999999 303.0,533.1999999999999 L295.0,533.6 Q293.0,533.6 293.0,533.105 Z" fill="#000" fill-opacity="0.9"/>
<path d="M308.0,530.465 Q308.0,529.6999999999999 310.0,529.6999999999999 L320.0,528.9 Q322.0,528.9 322.0,529.6650000000001 L322.0,531.535 Q322.0,532.3000000000001 320.0,532.3000000000001 L310.0,533.1 Q308.0,533.1 308.0,532.3349999999999 Z" fill="#000" fill-opacity="1.0"/>
<path d="M324.0,529.7950000000001 Q324.0,528.85 326.0,528.85 L336.0,527.35 Q338.0,527.35 338.0,528.2950000000001 L338.0,530.605 Q338.0,531.5500000000001 336.0,531.5500000000001 L326.0,533.0500000000001 Q324.0,533.0500000000001 324.0,532.105 Z" fill="#000" fill-opacity="1.0"/>
</g></svg>
<rect x="239.8" y="522.7" width="100.09999999999997" height="18.699999999999932" fill="none" stroke="#111" stroke-width="1.4"/>
<text x="388.5" y="404.3" font-size="7.3" text-anchor="start" fill="#231f20" stroke="#231f20" font-weight="normal" >Ba/F3 MPLmu_R</text>
<line x1="388.5" y1="405.9" x2="448.5" y2="405.9" stroke="#231f20" stroke-width="0.85" />
<g transform="translate(386.0,418.0) scale(0.95,1)"><text x="0" y="0" font-size="7.6" text-anchor="end" fill="#231f20" stroke="#231f20" style="stroke-width:0.14;letter-spacing:0px">Ruxolitinib</text></g>
<line x1="414.0" y1="415.4" x2="418.4" y2="415.4" stroke="#231f20" stroke-width="0.8" />
<text x="468.5" y="418.3" font-size="7.6" text-anchor="middle" fill="#231f20" stroke="#231f20" font-weight="normal" >+</text>
<line x1="393.1" y1="422.5" x2="440.85" y2="422.5" stroke="#231f20" stroke-width="1.2" />
<line x1="448.0" y1="422.5" x2="492.2" y2="422.5" stroke="#231f20" stroke-width="1.2" />
<g transform="translate(394.9,425.3) rotate(90)"><text x="0" y="0" font-size="7.8" fill="#231f20" stroke="#231f20">DMSO</text></g>
<g transform="translate(412.7,425.3) rotate(90)"><text x="0" y="0" font-size="7.8" fill="#231f20" stroke="#231f20">KN93 10&#956;M</text></g>
<g transform="translate(430.7,425.3) rotate(90)"><text x="0" y="0" font-size="7.8" fill="#231f20" stroke="#231f20">TFP 10&#956;M</text></g>
<g transform="translate(447.3,425.3) rotate(90)"><text x="0" y="0" font-size="7.8" fill="#231f20" stroke="#231f20">DMSO</text></g>
<g transform="translate(465.3,425.3) rotate(90)"><text x="0" y="0" font-size="7.8" fill="#231f20" stroke="#231f20">KN93 10&#956;M</text></g>
<g transform="translate(484.5,425.3) rotate(90)"><text x="0" y="0" font-size="7.8" fill="#231f20" stroke="#231f20">TFP 10&#956;M</text></g>
<text x="385.9" y="482.4" font-size="7.6" text-anchor="end" fill="#231f20" stroke="#231f20" font-weight="normal" >p-Stat5</text>
<rect x="390.3" y="469.2" width="100.09999999999997" height="19.100000000000023" fill="#f7f7f7"/>
<svg x="390.3" y="469.2" width="100.09999999999997" height="19.100000000000023" viewBox="390.3 469.2 100.09999999999997 19.100000000000023" overflow="hidden"><g filter="url(#bl)">
<path d="M391.0,474.52500000000003 Q391.0,473.85 393.0,473.85 L404.0,474.75 Q406.0,474.75 406.0,475.425 L406.0,477.075 Q406.0,477.75 404.0,477.75 L393.0,476.85 Q391.0,476.85 391.0,476.175 Z" fill="#000" fill-opacity="1.0"/>
<path d="M391.0,480.78999999999996 Q391.0,480.25 393.0,480.25 L403.0,480.75 Q405.0,480.75 405.0,481.28999999999996 L405.0,482.61 Q405.0,483.15 403.0,483.15 L393.0,482.65 Q391.0,482.65 391.0,482.11 Z" fill="#000" fill-opacity="0.45"/>
<path d="M408.0,476.25 Q408.0,475.8 410.0,475.8 L420.0,476.59999999999997 Q422.0,476.59999999999997 422.0,477.04999999999995 L422.0,478.15 Q422.0,478.59999999999997 420.0,478.59999999999997 L410.0,477.8 Q408.0,477.8 408.0,477.35 Z" fill="#000" fill-opacity="0.35"/>
<path d="M408.0,481.95 Q408.0,481.5 410.0,481.5 L420.0,481.5 Q422.0,481.5 422.0,481.95 L422.0,483.05 Q422.0,483.5 420.0,483.5 L410.0,483.5 Q408.0,483.5 408.0,483.05 Z" fill="#000" fill-opacity="0.15"/>
<path d="M424.0,478.05 Q424.0,477.6 426.0,477.6 L436.0,478.4 Q438.0,478.4 438.0,478.84999999999997 L438.0,479.95 Q438.0,480.4 436.0,480.4 L426.0,479.6 Q424.0,479.6 424.0,479.15000000000003 Z" fill="#000" fill-opacity="0.35"/>
<path d="M424.0,483.505 Q424.0,483.1 426.0,483.1 L436.0,483.1 Q438.0,483.1 438.0,483.505 L438.0,484.495 Q438.0,484.9 436.0,484.9 L426.0,484.9 Q424.0,484.9 424.0,484.495 Z" fill="#000" fill-opacity="0.12"/>
<path d="M440.0,478.705 Q440.0,477.85 442.0,477.85 L455.0,479.35 Q457.0,479.35 457.0,480.205 L457.0,482.295 Q457.0,483.15 455.0,483.15 L442.0,481.65 Q440.0,481.65 440.0,480.795 Z" fill="#000" fill-opacity="1.0"/>
<path d="M441.0,485.305 Q441.0,484.90000000000003 443.0,484.90000000000003 L454.0,484.90000000000003 Q456.0,484.90000000000003 456.0,485.305 L456.0,486.295 Q456.0,486.7 454.0,486.7 L443.0,486.7 Q441.0,486.7 441.0,486.295 Z" fill="#000" fill-opacity="0.25"/>
<path d="M459.0,480.94 Q459.0,480.40000000000003 461.0,480.40000000000003 L470.0,481.2 Q472.0,481.2 472.0,481.73999999999995 L472.0,483.06 Q472.0,483.59999999999997 470.0,483.59999999999997 L461.0,482.8 Q459.0,482.8 459.0,482.26000000000005 Z" fill="#000" fill-opacity="0.75"/>
<path d="M475.0,482.605 Q475.0,482.20000000000005 477.0,482.20000000000005 L486.0,483.20000000000005 Q488.0,483.20000000000005 488.0,483.605 L488.0,484.595 Q488.0,485.0 486.0,485.0 L477.0,484.0 Q475.0,484.0 475.0,483.595 Z" fill="#000" fill-opacity="0.15"/>
</g></svg>
<rect x="390.3" y="469.2" width="100.09999999999997" height="19.100000000000023" fill="none" stroke="#111" stroke-width="1.4"/>
<text x="385.9" y="508.9" font-size="7.7" text-anchor="end" fill="#231f20" stroke="#231f20" font-weight="normal" >Stat5</text>
<rect x="390.3" y="496.3" width="100.09999999999997" height="18.400000000000034" fill="#f7f7f7"/>
<svg x="390.3" y="496.3" width="100.09999999999997" height="18.400000000000034" viewBox="390.3 496.3 100.09999999999997 18.400000000000034" overflow="hidden"><g filter="url(#bl)">
<path d="M391.0,503.08500000000004 Q391.0,502.5 393.0,502.5 L403.0,502.5 Q405.0,502.5 405.0,503.08500000000004 L405.0,504.515 Q405.0,505.1 403.0,505.1 L393.0,505.1 Q391.0,505.1 391.0,504.515 Z" fill="#000" fill-opacity="0.8"/>
<path d="M391.0,505.94 Q391.0,505.40000000000003 393.0,505.40000000000003 L403.0,505.40000000000003 Q405.0,505.40000000000003 405.0,505.94 L405.0,507.26000000000005 Q405.0,507.8 403.0,507.8 L393.0,507.8 Q391.0,507.8 391.0,507.26000000000005 Z" fill="#000" fill-opacity="0.55"/>
<path d="M408.0,503.625 Q408.0,502.95 410.0,502.95 L420.0,502.45 Q422.0,502.45 422.0,503.125 L422.0,504.775 Q422.0,505.45 420.0,505.45 L410.0,505.95 Q408.0,505.95 408.0,505.275 Z" fill="#000" fill-opacity="0.9"/>
<path d="M408.0,506.98999999999995 Q408.0,506.45 410.0,506.45 L420.0,505.95 Q422.0,505.95 422.0,506.48999999999995 L422.0,507.81 Q422.0,508.34999999999997 420.0,508.34999999999997 L410.0,508.84999999999997 Q408.0,508.84999999999997 408.0,508.31 Z" fill="#000" fill-opacity="0.8"/>
<path d="M424.0,503.285 Q424.0,502.7 426.0,502.7 L436.0,502.7 Q438.0,502.7 438.0,503.285 L438.0,504.715 Q438.0,505.3 436.0,505.3 L426.0,505.3 Q424.0,505.3 424.0,504.715 Z" fill="#000" fill-opacity="0.6"/>
<path d="M424.0,506.195 Q424.0,505.7 426.0,505.7 L436.0,505.7 Q438.0,505.7 438.0,506.195 L438.0,507.40500000000003 Q438.0,507.90000000000003 436.0,507.90000000000003 L426.0,507.90000000000003 Q424.0,507.90000000000003 424.0,507.40500000000003 Z" fill="#000" fill-opacity="0.5"/>
<path d="M441.0,502.855 Q441.0,502.00000000000006 443.0,502.00000000000006 L454.0,501.8 Q456.0,501.8 456.0,502.655 L456.0,504.745 Q456.0,505.59999999999997 454.0,505.59999999999997 L443.0,505.8 Q441.0,505.8 441.0,504.94500000000005 Z" fill="#000" fill-opacity="0.95"/>
<path d="M441.0,506.25 Q441.0,505.8 443.0,505.8 L454.0,505.8 Q456.0,505.8 456.0,506.25 L456.0,507.35 Q456.0,507.8 454.0,507.8 L443.0,507.8 Q441.0,507.8 441.0,507.35 Z" fill="#000" fill-opacity="0.35"/>
<path d="M442.0,511.06 Q442.0,510.7 444.0,510.7 L453.0,510.7 Q455.0,510.7 455.0,511.06 L455.0,511.94 Q455.0,512.3 453.0,512.3 L444.0,512.3 Q442.0,512.3 442.0,511.94 Z" fill="#000" fill-opacity="0.15"/>
<path d="M458.0,503.015 Q458.0,501.8 460.0,501.8 L470.0,501.8 Q472.0,501.8 472.0,503.015 L472.0,505.985 Q472.0,507.2 470.0,507.2 L460.0,507.2 Q458.0,507.2 458.0,505.985 Z" fill="#000" fill-opacity="1.0"/>
<path d="M459.0,510.56 Q459.0,510.2 461.0,510.2 L469.0,510.2 Q471.0,510.2 471.0,510.56 L471.0,511.44 Q471.0,511.8 469.0,511.8 L461.0,511.8 Q459.0,511.8 459.0,511.44 Z" fill="#000" fill-opacity="0.2"/>
<path d="M475.0,502.84 Q475.0,502.3 477.0,502.3 L486.0,502.3 Q488.0,502.3 488.0,502.84 L488.0,504.16 Q488.0,504.7 486.0,504.7 L477.0,504.7 Q475.0,504.7 475.0,504.16 Z" fill="#000" fill-opacity="0.18"/>
<path d="M475.0,505.75 Q475.0,505.3 477.0,505.3 L486.0,505.3 Q488.0,505.3 488.0,505.75 L488.0,506.85 Q488.0,507.3 486.0,507.3 L477.0,507.3 Q475.0,507.3 475.0,506.85 Z" fill="#000" fill-opacity="0.12"/>
</g></svg>
<rect x="390.3" y="496.3" width="100.09999999999997" height="18.400000000000034" fill="none" stroke="#111" stroke-width="1.4"/>
<text x="385.9" y="535.6" font-size="7.5" text-anchor="end" fill="#231f20" stroke="#231f20" font-weight="normal" >b-actin</text>
<rect x="390.3" y="522.5" width="100.09999999999997" height="18.700000000000045" fill="#f7f7f7"/>
<svg x="390.3" y="522.5" width="100.09999999999997" height="18.700000000000045" viewBox="390.3 522.5 100.09999999999997 18.700000000000045" overflow="hidden"><g filter="url(#bl)">
<path d="M391.0,532.6650000000001 Q391.0,531.9 393.0,531.9 L403.0,531.9 Q405.0,531.9 405.0,532.6650000000001 L405.0,534.535 Q405.0,535.3000000000001 403.0,535.3000000000001 L393.0,535.3000000000001 Q391.0,535.3000000000001 391.0,534.535 Z" fill="#000" fill-opacity="1.0"/>
<path d="M407.0,532.26 Q407.0,531.45 409.0,531.45 L420.0,530.95 Q422.0,530.95 422.0,531.76 L422.0,533.74 Q422.0,534.55 420.0,534.55 L409.0,535.05 Q407.0,535.05 407.0,534.24 Z" fill="#000" fill-opacity="1.0"/>
<path d="M424.0,532.595 Q424.0,532.1 426.0,532.1 L435.0,532.1 Q437.0,532.1 437.0,532.595 L437.0,533.8050000000001 Q437.0,534.3000000000001 435.0,534.3000000000001 L426.0,534.3000000000001 Q424.0,534.3000000000001 424.0,533.8050000000001 Z" fill="#000" fill-opacity="0.7"/>
<path d="M441.0,531.92 Q441.0,531.1999999999999 443.0,531.1999999999999 L454.0,531.1999999999999 Q456.0,531.1999999999999 456.0,531.92 L456.0,533.68 Q456.0,534.4 454.0,534.4 L443.0,534.4 Q441.0,534.4 441.0,533.68 Z" fill="#000" fill-opacity="0.95"/>
<path d="M457.0,531.35 Q457.0,530.0 459.0,530.0 L471.0,530.0 Q473.0,530.0 473.0,531.35 L473.0,534.65 Q473.0,536.0 471.0,536.0 L459.0,536.0 Q457.0,536.0 457.0,534.65 Z" fill="#000" fill-opacity="1.0"/>
<path d="M475.0,532.785 Q475.0,532.2 477.0,532.2 L486.0,532.2 Q488.0,532.2 488.0,532.785 L488.0,534.215 Q488.0,534.8 486.0,534.8 L477.0,534.8 Q475.0,534.8 475.0,534.215 Z" fill="#000" fill-opacity="0.8"/>
</g></svg>
<rect x="390.3" y="522.5" width="100.09999999999997" height="18.700000000000045" fill="none" stroke="#111" stroke-width="1.4"/>
<text x="7.5" y="550.8" font-size="11" text-anchor="start" fill="#000" stroke="#000" font-weight="bold" >G</text>
<text x="127.8" y="559.6" font-size="7.3" text-anchor="start" fill="#231f20" stroke="#231f20" font-weight="normal" >Pt.1 JAK2V617F</text>
<line x1="68.5" y1="565.2" x2="68.5" y2="637.3" stroke="#231f20" stroke-width="1.2" />
<line x1="68.5" y1="636.8" x2="241.6" y2="636.8" stroke="#231f20" stroke-width="1.5" />
<line x1="65.7" y1="636.8" x2="68.5" y2="636.8" stroke="#231f20" stroke-width="1" />
<text x="62.7" y="639.8" font-size="7.6" text-anchor="end" fill="#231f20" stroke="#231f20" font-weight="normal" >0</text>
<line x1="65.7" y1="618.9749999999999" x2="68.5" y2="618.9749999999999" stroke="#231f20" stroke-width="1" />
<text x="62.7" y="621.9749999999999" font-size="7.6" text-anchor="end" fill="#231f20" stroke="#231f20" font-weight="normal" >20</text>
<line x1="65.7" y1="601.15" x2="68.5" y2="601.15" stroke="#231f20" stroke-width="1" />
<text x="62.7" y="604.15" font-size="7.6" text-anchor="end" fill="#231f20" stroke="#231f20" font-weight="normal" >40</text>
<line x1="65.7" y1="583.325" x2="68.5" y2="583.325" stroke="#231f20" stroke-width="1" />
<text x="62.7" y="586.325" font-size="7.6" text-anchor="end" fill="#231f20" stroke="#231f20" font-weight="normal" >60</text>
<line x1="65.7" y1="565.5" x2="68.5" y2="565.5" stroke="#231f20" stroke-width="1" />
<text x="62.7" y="568.5" font-size="7.6" text-anchor="end" fill="#231f20" stroke="#231f20" font-weight="normal" >80</text>
<g transform="translate(47.3,601) rotate(-90) scale(0.65,1)"><text x="0" y="0" font-size="9.0" text-anchor="middle" fill="#231f20" stroke="#231f20" style="stroke-width:0.15;letter-spacing:0.35px">Colony number</text></g>
<rect x="87.4" y="586.35525" width="21.89999999999999" height="50.44475" fill="#e4889a" stroke="#dc6f84" stroke-width="0.6"/>
<line x1="98.35" y1="636.8" x2="98.35" y2="639.3" stroke="#231f20" stroke-width="1" />
<line x1="98.35" y1="579.136125" x2="98.35" y2="592.9504999999999" stroke="#d0122f" stroke-width="0.9" />
<line x1="93.05" y1="579.136125" x2="103.64999999999999" y2="579.136125" stroke="#d0122f" stroke-width="1.0" />
<line x1="93.05" y1="592.9504999999999" x2="103.64999999999999" y2="592.9504999999999" stroke="#d0122f" stroke-width="1.0" />
<circle cx="98.35" cy="580.918625" r="1.55" fill="#d0122f"/>
<circle cx="98.35" cy="590.900625" r="1.55" fill="#d0122f"/>
<text x="98.35" y="649.1" font-size="7.5" text-anchor="middle" fill="#231f20" stroke="#231f20" font-weight="normal" >DMSO</text>
<rect x="128.3" y="607.7452499999999" width="21.899999999999977" height="29.054750000000013" fill="#e4889a" stroke="#dc6f84" stroke-width="0.6"/>
<line x1="139.25" y1="636.8" x2="139.25" y2="639.3" stroke="#231f20" stroke-width="1" />
<line x1="139.25" y1="602.665125" x2="139.25" y2="611.221125" stroke="#d0122f" stroke-width="0.9" />
<line x1="133.95" y1="602.665125" x2="144.55" y2="602.665125" stroke="#d0122f" stroke-width="1.0" />
<line x1="133.95" y1="611.221125" x2="144.55" y2="611.221125" stroke="#d0122f" stroke-width="1.0" />
<circle cx="139.25" cy="604.7149999999999" r="1.55" fill="#d0122f"/>
<circle cx="139.25" cy="609.9733749999999" r="1.55" fill="#d0122f"/>
<text x="139.25" y="649.1" font-size="7.5" text-anchor="middle" fill="#231f20" stroke="#231f20" font-weight="normal" >KN93</text>
<text x="139.25" y="658.2" font-size="7.5" text-anchor="middle" fill="#231f20" stroke="#231f20" font-weight="normal" >10&#956;M</text>
<rect x="168.5" y="610.59725" width="21.900000000000006" height="26.202749999999924" fill="#e4889a" stroke="#dc6f84" stroke-width="0.6"/>
<line x1="179.45" y1="636.8" x2="179.45" y2="639.3" stroke="#231f20" stroke-width="1" />
<line x1="179.45" y1="604.7149999999999" x2="179.45" y2="615.142625" stroke="#d0122f" stroke-width="0.9" />
<line x1="174.14999999999998" y1="604.7149999999999" x2="184.75" y2="604.7149999999999" stroke="#d0122f" stroke-width="1.0" />
<line x1="174.14999999999998" y1="615.142625" x2="184.75" y2="615.142625" stroke="#d0122f" stroke-width="1.0" />
<circle cx="179.45" cy="605.7845" r="1.55" fill="#d0122f"/>
<circle cx="179.45" cy="613.3601249999999" r="1.55" fill="#d0122f"/>
<text x="179.45" y="649.1" font-size="7.5" text-anchor="middle" fill="#231f20" stroke="#231f20" font-weight="normal" >Ruxo</text>
<text x="179.45" y="658.2" font-size="7.5" text-anchor="middle" fill="#231f20" stroke="#231f20" font-weight="normal" >100&#956;M</text>
<rect x="209.0" y="619.777125" width="22.0" height="17.022875" fill="#e4889a" stroke="#dc6f84" stroke-width="0.6"/>
<line x1="220.0" y1="636.8" x2="220.0" y2="639.3" stroke="#231f20" stroke-width="1" />
<line x1="220.0" y1="617.549" x2="220.0" y2="621.29225" stroke="#d0122f" stroke-width="0.9" />
<line x1="214.7" y1="617.549" x2="225.3" y2="617.549" stroke="#d0122f" stroke-width="1.0" />
<line x1="214.7" y1="621.29225" x2="225.3" y2="621.29225" stroke="#d0122f" stroke-width="1.0" />
<circle cx="217.0" cy="621.29225" r="1.55" fill="#d0122f"/>
<circle cx="223.0" cy="618.08375" r="1.55" fill="#d0122f"/>
<text x="220.0" y="649.1" font-size="7.5" text-anchor="middle" fill="#231f20" stroke="#231f20" font-weight="normal" >KN93 10&#956;M</text>
<text x="220.0" y="658.2" font-size="7.5" text-anchor="middle" fill="#231f20" stroke="#231f20" font-weight="normal" >+</text>
<text x="220.0" y="667.3000000000001" font-size="7.5" text-anchor="middle" fill="#231f20" stroke="#231f20" font-weight="normal" >Ruxo 100&#956;M</text>
<text x="351.8" y="559.6" font-size="7.3" text-anchor="start" fill="#231f20" stroke="#231f20" font-weight="normal" >Pt.2 CALR type1</text>
<line x1="294.2" y1="565.2" x2="294.2" y2="637.3" stroke="#231f20" stroke-width="1.2" />
<line x1="294.2" y1="636.8" x2="466.25" y2="636.8" stroke="#231f20" stroke-width="1.5" />
<line x1="291.4" y1="636.8" x2="294.2" y2="636.8" stroke="#231f20" stroke-width="1" />
<text x="288.4" y="639.8" font-size="7.6" text-anchor="end" fill="#231f20" stroke="#231f20" font-weight="normal" >0</text>
<line x1="291.4" y1="613.0333333333333" x2="294.2" y2="613.0333333333333" stroke="#231f20" stroke-width="1" />
<text x="288.4" y="616.0333333333333" font-size="7.6" text-anchor="end" fill="#231f20" stroke="#231f20" font-weight="normal" >50</text>
<line x1="291.4" y1="589.2666666666667" x2="294.2" y2="589.2666666666667" stroke="#231f20" stroke-width="1" />
<text x="288.4" y="592.2666666666667" font-size="7.6" text-anchor="end" fill="#231f20" stroke="#231f20" font-weight="normal" >100</text>
<line x1="291.4" y1="565.5" x2="294.2" y2="565.5" stroke="#231f20" stroke-width="1" />
<text x="288.4" y="568.5" font-size="7.6" text-anchor="end" fill="#231f20" stroke="#231f20" font-weight="normal" >150</text>
<g transform="translate(268.9,601) rotate(-90) scale(0.65,1)"><text x="0" y="0" font-size="9.0" text-anchor="middle" fill="#231f20" stroke="#231f20" style="stroke-width:0.15;letter-spacing:0.35px">Colony number</text></g>
<rect x="313.0" y="580.9483333333333" width="21.5" height="55.85166666666669" fill="#e4889a" stroke="#dc6f84" stroke-width="0.6"/>
<line x1="323.75" y1="636.8" x2="323.75" y2="639.3" stroke="#231f20" stroke-width="1" />
<line x1="323.75" y1="578.334" x2="323.75" y2="582.1366666666667" stroke="#d0122f" stroke-width="0.9" />
<line x1="318.45" y1="578.334" x2="329.05" y2="578.334" stroke="#d0122f" stroke-width="1.0" />
<line x1="318.45" y1="582.1366666666667" x2="329.05" y2="582.1366666666667" stroke="#d0122f" stroke-width="1.0" />
<circle cx="323.75" cy="579.047" r="1.55" fill="#d0122f"/>
<circle cx="323.75" cy="581.4236666666667" r="1.55" fill="#d0122f"/>
<text x="323.75" y="649.1" font-size="7.5" text-anchor="middle" fill="#231f20" stroke="#231f20" font-weight="normal" >DMSO</text>
<rect x="353.75" y="601.8629999999999" width="21.25" height="34.93700000000001" fill="#e4889a" stroke="#dc6f84" stroke-width="0.6"/>
<line x1="364.375" y1="636.8" x2="364.375" y2="639.3" stroke="#231f20" stroke-width="1" />
<line x1="364.375" y1="584.9886666666666" x2="364.375" y2="617.7866666666666" stroke="#d0122f" stroke-width="0.9" />
<line x1="359.075" y1="584.9886666666666" x2="369.675" y2="584.9886666666666" stroke="#d0122f" stroke-width="1.0" />
<line x1="359.075" y1="617.7866666666666" x2="369.675" y2="617.7866666666666" stroke="#d0122f" stroke-width="1.0" />
<circle cx="364.375" cy="589.5043333333333" r="1.55" fill="#d0122f"/>
<circle cx="364.375" cy="613.0333333333333" r="1.55" fill="#d0122f"/>
<text x="364.375" y="649.1" font-size="7.5" text-anchor="middle" fill="#231f20" stroke="#231f20" font-weight="normal" >KN93</text>
<text x="364.375" y="658.2" font-size="7.5" text-anchor="middle" fill="#231f20" stroke="#231f20" font-weight="normal" >10&#956;M</text>
<rect x="394.25" y="598.0603333333333" width="22.0" height="38.73966666666661" fill="#e4889a" stroke="#dc6f84" stroke-width="0.6"/>
<line x1="405.25" y1="636.8" x2="405.25" y2="639.3" stroke="#231f20" stroke-width="1" />
<line x1="405.25" y1="592.5939999999999" x2="405.25" y2="602.576" stroke="#d0122f" stroke-width="0.9" />
<line x1="399.95" y1="592.5939999999999" x2="410.55" y2="592.5939999999999" stroke="#d0122f" stroke-width="1.0" />
<line x1="399.95" y1="602.576" x2="410.55" y2="602.576" stroke="#d0122f" stroke-width="1.0" />
<circle cx="405.25" cy="594.2576666666666" r="1.55" fill="#d0122f"/>
<circle cx="405.25" cy="601.15" r="1.55" fill="#d0122f"/>
<text x="407.75" y="649.1" font-size="7.5" text-anchor="middle" fill="#231f20" stroke="#231f20" font-weight="normal" >Ruxo</text>
<text x="407.75" y="658.2" font-size="7.5" text-anchor="middle" fill="#231f20" stroke="#231f20" font-weight="normal" >100&#956;M</text>
<rect x="435.0" y="612.0826666666667" width="21.75" height="24.717333333333272" fill="#e4889a" stroke="#dc6f84" stroke-width="0.6"/>
<line x1="445.875" y1="636.8" x2="445.875" y2="639.3" stroke="#231f20" stroke-width="1" />
<circle cx="442.875" cy="611.4647333333334" r="1.55" fill="#d0122f"/>
<circle cx="448.875" cy="611.4647333333334" r="1.55" fill="#d0122f"/>
<text x="445.875" y="649.1" font-size="7.5" text-anchor="middle" fill="#231f20" stroke="#231f20" font-weight="normal" >KN93 10&#956;M</text>
<text x="445.875" y="658.2" font-size="7.5" text-anchor="middle" fill="#231f20" stroke="#231f20" font-weight="normal" >+</text>
<text x="445.875" y="667.3000000000001" font-size="7.5" text-anchor="middle" fill="#231f20" stroke="#231f20" font-weight="normal" >Ruxo 100&#956;M</text>
<rect x="0.5" y="0.5" width="519" height="674" fill="none" stroke="#231f20" stroke-width="1.2"/>
</svg>
</body></html>
